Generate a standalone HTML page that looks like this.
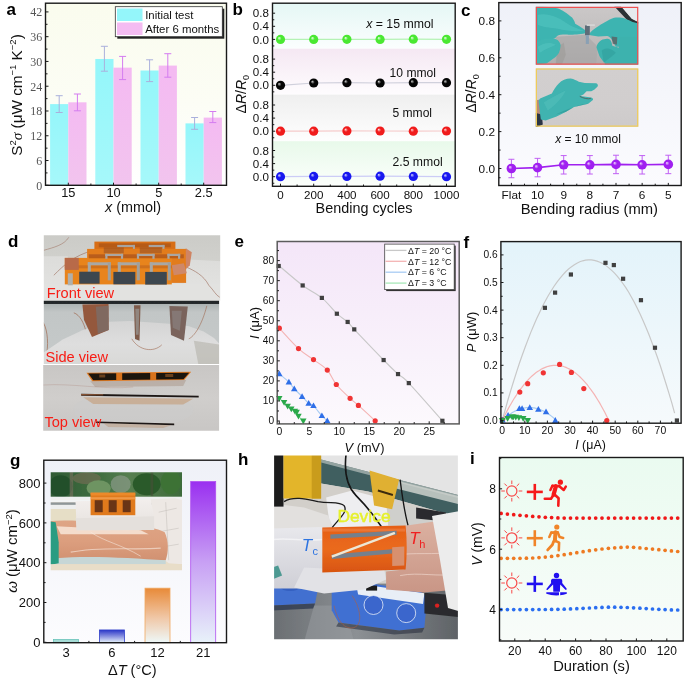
<!DOCTYPE html>
<html><head><meta charset="utf-8"><style>html,body{margin:0;padding:0;background:#fff;width:685px;height:679px;overflow:hidden;font-family:"Liberation Sans",sans-serif} svg{display:block;filter:blur(0.35px)}</style></head>
<body><svg width="685" height="679" viewBox="0 0 685 679"><defs><linearGradient id="ga_bg" x1="0" y1="0" x2="0" y2="1"><stop offset="0" stop-color="#fbfdf0"/><stop offset="1" stop-color="#fdfef6"/></linearGradient><linearGradient id="ga_bg2" x1="0" y1="0" x2="0" y2="1"><stop offset="0" stop-color="#fafcee"/><stop offset="0.55" stop-color="#fcfdf5"/><stop offset="1" stop-color="#ffffff"/></linearGradient><linearGradient id="ga_c" x1="0" y1="0" x2="0" y2="1"><stop offset="0" stop-color="#94f6fa"/><stop offset="1" stop-color="#a6f8fa"/></linearGradient><linearGradient id="ga_p" x1="0" y1="0" x2="0" y2="1"><stop offset="0" stop-color="#f4baf2"/><stop offset="1" stop-color="#f2c4ee"/></linearGradient><linearGradient id="gb0" x1="0" y1="0" x2="0" y2="1"><stop offset="0" stop-color="#e5f7f5"/><stop offset="1" stop-color="#fbfefe"/></linearGradient><linearGradient id="gb1" x1="0" y1="0" x2="0" y2="1"><stop offset="0" stop-color="#f5e8f3"/><stop offset="1" stop-color="#fefcfe"/></linearGradient><linearGradient id="gb2" x1="0" y1="0" x2="0" y2="1"><stop offset="0" stop-color="#efefef"/><stop offset="1" stop-color="#fefefe"/></linearGradient><linearGradient id="gb3" x1="0" y1="0" x2="0" y2="1"><stop offset="0" stop-color="#e8f9ea"/><stop offset="1" stop-color="#fcfffc"/></linearGradient><radialGradient id="gsg" cx="0.5" cy="0.5" r="0.5" fx="0.33" fy="0.33"><stop offset="0" stop-color="#f0fff0"/><stop offset="0.42" stop-color="#4ae832"/><stop offset="1" stop-color="#4ae832"/></radialGradient><radialGradient id="gsk" cx="0.5" cy="0.5" r="0.5" fx="0.33" fy="0.33"><stop offset="0" stop-color="#d0d0d0"/><stop offset="0.42" stop-color="#050505"/><stop offset="1" stop-color="#050505"/></radialGradient><radialGradient id="gsr" cx="0.5" cy="0.5" r="0.5" fx="0.33" fy="0.33"><stop offset="0" stop-color="#ffe0e0"/><stop offset="0.42" stop-color="#f01c1c"/><stop offset="1" stop-color="#f01c1c"/></radialGradient><radialGradient id="gsb" cx="0.5" cy="0.5" r="0.5" fx="0.33" fy="0.33"><stop offset="0" stop-color="#e0e0ff"/><stop offset="0.42" stop-color="#1818f0"/><stop offset="1" stop-color="#1818f0"/></radialGradient><radialGradient id="gsp" cx="0.5" cy="0.5" r="0.5" fx="0.33" fy="0.33"><stop offset="0" stop-color="#f4e0ff"/><stop offset="0.42" stop-color="#a020f0"/><stop offset="1" stop-color="#a020f0"/></radialGradient><linearGradient id="gc_bg" x1="0" y1="0" x2="0" y2="1"><stop offset="0" stop-color="#eff1f8"/><stop offset="1" stop-color="#fbfbfe"/></linearGradient><linearGradient id="ge_bg" x1="0" y1="0" x2="0" y2="1"><stop offset="0" stop-color="#f4e6f8"/><stop offset="1" stop-color="#fcf9fd"/></linearGradient><linearGradient id="gf_bg" x1="0" y1="0" x2="0" y2="1"><stop offset="0" stop-color="#e3f3fa"/><stop offset="1" stop-color="#f6fafc"/></linearGradient><linearGradient id="gg_bg" x1="0" y1="0" x2="0" y2="1"><stop offset="0" stop-color="#eff1f8"/><stop offset="1" stop-color="#fcfcfe"/></linearGradient><linearGradient id="gg6" x1="0" y1="0" x2="0" y2="1"><stop offset="0" stop-color="#2a36c8"/><stop offset="0.5" stop-color="#8890e0"/><stop offset="1" stop-color="#e8f4fa"/></linearGradient><linearGradient id="gg12" x1="0" y1="0" x2="0" y2="1"><stop offset="0" stop-color="#e88a38"/><stop offset="0.55" stop-color="#f0c8a8"/><stop offset="1" stop-color="#eef8f8"/></linearGradient><linearGradient id="gg21" x1="0" y1="0" x2="0" y2="1"><stop offset="0" stop-color="#9a30f0"/><stop offset="0.5" stop-color="#c8a0f4"/><stop offset="1" stop-color="#e8f2fa"/></linearGradient><linearGradient id="gi_bg" x1="0" y1="0" x2="0" y2="1"><stop offset="0" stop-color="#eafbf0"/><stop offset="1" stop-color="#f8fcf9"/></linearGradient><clipPath id="clip_c1"><rect x="0" y="0" width="102.5" height="57.9"/></clipPath><filter id="blur_c1" x="-5%" y="-5%" width="110%" height="110%"><feGaussianBlur stdDeviation="0.5"/></filter><linearGradient id="c1bg" x1="0" y1="0" x2="0" y2="1"><stop offset="0" stop-color="#cbc8c8"/><stop offset="0.45" stop-color="#c3c0c0"/><stop offset="1" stop-color="#aeabab"/></linearGradient><linearGradient id="c1sh" x1="0" y1="0" x2="1" y2="0"><stop offset="0" stop-color="#9a9794"/><stop offset="1" stop-color="#b8b4b0"/></linearGradient><clipPath id="clip_c2"><rect x="0" y="0" width="102.5" height="58.3"/></clipPath><filter id="blur_c2" x="-5%" y="-5%" width="110%" height="110%"><feGaussianBlur stdDeviation="0.55"/></filter><linearGradient id="c2bg" x1="0" y1="0" x2="0" y2="1"><stop offset="0" stop-color="#d2cfcf"/><stop offset="0.6" stop-color="#d1cece"/><stop offset="1" stop-color="#cdcaca"/></linearGradient><clipPath id="clip_g"><rect x="0" y="0" width="131.3" height="98.1"/></clipPath><filter id="blur_g" x="-5%" y="-5%" width="110%" height="110%"><feGaussianBlur stdDeviation="0.55"/></filter><linearGradient id="gtree" x1="0" y1="0" x2="1" y2="0"><stop offset="0" stop-color="#2f5a34"/><stop offset="0.35" stop-color="#3e6c3e"/><stop offset="0.6" stop-color="#567e50"/><stop offset="1" stop-color="#3c6a3a"/></linearGradient><linearGradient id="garm" x1="0" y1="0" x2="0" y2="1"><stop offset="0" stop-color="#dea586"/><stop offset="0.5" stop-color="#dc9e7e"/><stop offset="1" stop-color="#d09070"/></linearGradient><linearGradient id="gfoam" x1="0" y1="0" x2="0" y2="1"><stop offset="0" stop-color="#f2eeec"/><stop offset="1" stop-color="#e6e2de"/></linearGradient><clipPath id="clip_d1"><rect x="0" y="0" width="176.4" height="65.5"/></clipPath><filter id="blur_d1" x="-5%" y="-5%" width="110%" height="110%"><feGaussianBlur stdDeviation="0.6"/></filter><linearGradient id="d1bg" x1="0" y1="0" x2="0" y2="1"><stop offset="0" stop-color="#cbcbc7"/><stop offset="1" stop-color="#d9d9d5"/></linearGradient><linearGradient id="d1foam" x1="0" y1="0" x2="0" y2="1"><stop offset="0" stop-color="#dcdcda"/><stop offset="1" stop-color="#e6e6e4"/></linearGradient><linearGradient id="d1or" x1="0" y1="0" x2="0" y2="1"><stop offset="0" stop-color="#e97c18"/><stop offset="1" stop-color="#e8841e"/></linearGradient><clipPath id="clip_d2"><rect x="0" y="0" width="175.3" height="63.1"/></clipPath><filter id="blur_d2" x="-5%" y="-5%" width="110%" height="110%"><feGaussianBlur stdDeviation="0.6"/></filter><linearGradient id="d2bg" x1="0" y1="0" x2="0" y2="1"><stop offset="0" stop-color="#1e2224"/><stop offset="0.07" stop-color="#262a2c"/><stop offset="0.085" stop-color="#aeb4b4"/><stop offset="0.2" stop-color="#c2c6c6"/><stop offset="1" stop-color="#c6caca"/></linearGradient><linearGradient id="d2foam" x1="0" y1="0" x2="0" y2="1"><stop offset="0" stop-color="#d4d4d4"/><stop offset="0.5" stop-color="#dedede"/><stop offset="1" stop-color="#d8d8d6"/></linearGradient><clipPath id="clip_d3"><rect x="0" y="0" width="175.9" height="65.8"/></clipPath><filter id="blur_d3" x="-5%" y="-5%" width="110%" height="110%"><feGaussianBlur stdDeviation="0.55"/></filter><linearGradient id="d3bg" x1="0" y1="0" x2="0" y2="1"><stop offset="0" stop-color="#c8c6c4"/><stop offset="0.5" stop-color="#d0cecc"/><stop offset="1" stop-color="#c8c6c4"/></linearGradient><clipPath id="clip_h"><rect x="0" y="0" width="183.8" height="183.7"/></clipPath><filter id="blur_h" x="-5%" y="-5%" width="110%" height="110%"><feGaussianBlur stdDeviation="0.6"/></filter><linearGradient id="horange" x1="0" y1="0" x2="0" y2="1"><stop offset="0" stop-color="#e65e14"/><stop offset="0.5" stop-color="#ea6a1e"/><stop offset="1" stop-color="#d85410"/></linearGradient><linearGradient id="hwrap" x1="0" y1="0" x2="0" y2="1"><stop offset="0" stop-color="#e8e8ec"/><stop offset="1" stop-color="#cfcfd6"/></linearGradient><linearGradient id="hskin" x1="0" y1="0" x2="0" y2="1"><stop offset="0" stop-color="#dcb2a2"/><stop offset="1" stop-color="#c99686"/></linearGradient><linearGradient id="hfloor" x1="0" y1="0" x2="1" y2="0"><stop offset="0" stop-color="#6a6e72"/><stop offset="0.45" stop-color="#8c9094"/><stop offset="1" stop-color="#5e6266"/></linearGradient></defs><rect x="45.50" y="3.20" width="181.00" height="182.10" fill="url(#ga_bg2)" stroke="none" stroke-width="1" /><rect x="50.10" y="104.10" width="18.20" height="81.20" fill="url(#ga_c)" stroke="none" stroke-width="1" /><rect x="68.30" y="102.32" width="18.20" height="82.98" fill="url(#ga_p)" stroke="none" stroke-width="1" /><rect x="95.30" y="58.97" width="18.20" height="126.33" fill="url(#ga_c)" stroke="none" stroke-width="1" /><rect x="113.50" y="67.64" width="18.20" height="117.66" fill="url(#ga_p)" stroke="none" stroke-width="1" /><rect x="140.50" y="70.53" width="18.20" height="114.77" fill="url(#ga_c)" stroke="none" stroke-width="1" /><rect x="158.70" y="65.58" width="18.20" height="119.72" fill="url(#ga_p)" stroke="none" stroke-width="1" /><rect x="185.50" y="123.38" width="18.20" height="61.93" fill="url(#ga_c)" stroke="none" stroke-width="1" /><rect x="203.70" y="117.60" width="18.20" height="67.70" fill="url(#ga_p)" stroke="none" stroke-width="1" /><line x1="59.20" y1="95.70" x2="59.20" y2="112.50" stroke="#aab0dc" stroke-width="1" /><line x1="55.70" y1="95.70" x2="62.70" y2="95.70" stroke="#aab0dc" stroke-width="1" /><line x1="55.70" y1="112.50" x2="62.70" y2="112.50" stroke="#aab0dc" stroke-width="1" /><line x1="77.40" y1="94.00" x2="77.40" y2="110.80" stroke="#d47cf0" stroke-width="1" /><line x1="73.90" y1="94.00" x2="80.90" y2="94.00" stroke="#d47cf0" stroke-width="1" /><line x1="73.90" y1="110.80" x2="80.90" y2="110.80" stroke="#d47cf0" stroke-width="1" /><line x1="104.40" y1="46.30" x2="104.40" y2="71.20" stroke="#aab0dc" stroke-width="1" /><line x1="100.90" y1="46.30" x2="107.90" y2="46.30" stroke="#aab0dc" stroke-width="1" /><line x1="100.90" y1="71.20" x2="107.90" y2="71.20" stroke="#aab0dc" stroke-width="1" /><line x1="122.60" y1="56.40" x2="122.60" y2="79.60" stroke="#d47cf0" stroke-width="1" /><line x1="119.10" y1="56.40" x2="126.10" y2="56.40" stroke="#d47cf0" stroke-width="1" /><line x1="119.10" y1="79.60" x2="126.10" y2="79.60" stroke="#d47cf0" stroke-width="1" /><line x1="149.60" y1="59.80" x2="149.60" y2="81.60" stroke="#aab0dc" stroke-width="1" /><line x1="146.10" y1="59.80" x2="153.10" y2="59.80" stroke="#aab0dc" stroke-width="1" /><line x1="146.10" y1="81.60" x2="153.10" y2="81.60" stroke="#aab0dc" stroke-width="1" /><line x1="167.80" y1="53.70" x2="167.80" y2="77.20" stroke="#d47cf0" stroke-width="1" /><line x1="164.30" y1="53.70" x2="171.30" y2="53.70" stroke="#d47cf0" stroke-width="1" /><line x1="164.30" y1="77.20" x2="171.30" y2="77.20" stroke="#d47cf0" stroke-width="1" /><line x1="194.60" y1="117.50" x2="194.60" y2="129.30" stroke="#aab0dc" stroke-width="1" /><line x1="191.10" y1="117.50" x2="198.10" y2="117.50" stroke="#aab0dc" stroke-width="1" /><line x1="191.10" y1="129.30" x2="198.10" y2="129.30" stroke="#aab0dc" stroke-width="1" /><line x1="212.80" y1="111.50" x2="212.80" y2="122.60" stroke="#d47cf0" stroke-width="1" /><line x1="209.30" y1="111.50" x2="216.30" y2="111.50" stroke="#d47cf0" stroke-width="1" /><line x1="209.30" y1="122.60" x2="216.30" y2="122.60" stroke="#d47cf0" stroke-width="1" /><rect x="45.50" y="3.20" width="181.00" height="182.10" fill="none" stroke="#1a1a1a" stroke-width="1.4" /><rect x="117.30" y="8.70" width="107.00" height="30.00" fill="#222" stroke="none" stroke-width="1" /><rect x="115.30" y="6.70" width="107.00" height="30.00" fill="#fff" stroke="#333" stroke-width="0.8" /><rect x="117.00" y="8.50" width="25.50" height="12.50" fill="#94f6fa" stroke="none" stroke-width="1" /><rect x="117.00" y="22.50" width="25.50" height="12.50" fill="#f4bcf2" stroke="none" stroke-width="1" /><text x="145.20" y="18.90" font-size="11.4" text-anchor="start" fill="#111" font-family='"Liberation Sans", sans-serif' font-weight="normal" font-style="normal" >Initial test</text><text x="145.20" y="32.50" font-size="11.4" text-anchor="start" fill="#111" font-family='"Liberation Sans", sans-serif' font-weight="normal" font-style="normal" >After 6 months</text><line x1="45.50" y1="185.30" x2="48.50" y2="185.30" stroke="#1a1a1a" stroke-width="1" /><text x="42.30" y="189.60" font-size="12" text-anchor="end" fill="#555" font-family='"Liberation Serif", serif' font-weight="normal" font-style="normal" >0</text><line x1="45.50" y1="160.53" x2="48.50" y2="160.53" stroke="#1a1a1a" stroke-width="1" /><text x="42.30" y="164.83" font-size="12" text-anchor="end" fill="#555" font-family='"Liberation Serif", serif' font-weight="normal" font-style="normal" >6</text><line x1="45.50" y1="135.76" x2="48.50" y2="135.76" stroke="#1a1a1a" stroke-width="1" /><text x="42.30" y="140.06" font-size="12" text-anchor="end" fill="#555" font-family='"Liberation Serif", serif' font-weight="normal" font-style="normal" >12</text><line x1="45.50" y1="110.99" x2="48.50" y2="110.99" stroke="#1a1a1a" stroke-width="1" /><text x="42.30" y="115.29" font-size="12" text-anchor="end" fill="#555" font-family='"Liberation Serif", serif' font-weight="normal" font-style="normal" >18</text><line x1="45.50" y1="86.22" x2="48.50" y2="86.22" stroke="#1a1a1a" stroke-width="1" /><text x="42.30" y="90.52" font-size="12" text-anchor="end" fill="#555" font-family='"Liberation Serif", serif' font-weight="normal" font-style="normal" >24</text><line x1="45.50" y1="61.45" x2="48.50" y2="61.45" stroke="#1a1a1a" stroke-width="1" /><text x="42.30" y="65.75" font-size="12" text-anchor="end" fill="#555" font-family='"Liberation Serif", serif' font-weight="normal" font-style="normal" >30</text><line x1="45.50" y1="36.68" x2="48.50" y2="36.68" stroke="#1a1a1a" stroke-width="1" /><text x="42.30" y="40.98" font-size="12" text-anchor="end" fill="#555" font-family='"Liberation Serif", serif' font-weight="normal" font-style="normal" >36</text><line x1="45.50" y1="11.91" x2="48.50" y2="11.91" stroke="#1a1a1a" stroke-width="1" /><text x="42.30" y="16.21" font-size="12" text-anchor="end" fill="#555" font-family='"Liberation Serif", serif' font-weight="normal" font-style="normal" >42</text><line x1="45.50" y1="172.92" x2="47.50" y2="172.92" stroke="#1a1a1a" stroke-width="1" /><line x1="45.50" y1="148.15" x2="47.50" y2="148.15" stroke="#1a1a1a" stroke-width="1" /><line x1="45.50" y1="123.38" x2="47.50" y2="123.38" stroke="#1a1a1a" stroke-width="1" /><line x1="45.50" y1="98.61" x2="47.50" y2="98.61" stroke="#1a1a1a" stroke-width="1" /><line x1="45.50" y1="73.84" x2="47.50" y2="73.84" stroke="#1a1a1a" stroke-width="1" /><line x1="45.50" y1="49.07" x2="47.50" y2="49.07" stroke="#1a1a1a" stroke-width="1" /><line x1="45.50" y1="24.30" x2="47.50" y2="24.30" stroke="#1a1a1a" stroke-width="1" /><line x1="68.30" y1="185.30" x2="68.30" y2="182.70" stroke="#1a1a1a" stroke-width="1" /><line x1="113.50" y1="185.30" x2="113.50" y2="182.70" stroke="#1a1a1a" stroke-width="1" /><line x1="158.70" y1="185.30" x2="158.70" y2="182.70" stroke="#1a1a1a" stroke-width="1" /><line x1="203.70" y1="185.30" x2="203.70" y2="182.70" stroke="#1a1a1a" stroke-width="1" /><line x1="90.90" y1="185.30" x2="90.90" y2="183.50" stroke="#1a1a1a" stroke-width="1" /><line x1="136.10" y1="185.30" x2="136.10" y2="183.50" stroke="#1a1a1a" stroke-width="1" /><line x1="181.20" y1="185.30" x2="181.20" y2="183.50" stroke="#1a1a1a" stroke-width="1" /><text x="68.30" y="197.00" font-size="12.8" text-anchor="middle" fill="#111" font-family='"Liberation Sans", sans-serif' font-weight="normal" font-style="normal" >15</text><text x="113.50" y="197.00" font-size="12.8" text-anchor="middle" fill="#111" font-family='"Liberation Sans", sans-serif' font-weight="normal" font-style="normal" >10</text><text x="158.70" y="197.00" font-size="12.8" text-anchor="middle" fill="#111" font-family='"Liberation Sans", sans-serif' font-weight="normal" font-style="normal" >5</text><text x="203.70" y="197.00" font-size="12.8" text-anchor="middle" fill="#111" font-family='"Liberation Sans", sans-serif' font-weight="normal" font-style="normal" >2.5</text><text x="133.00" y="212.40" font-size="14.4" text-anchor="middle" fill="#111" font-family='"Liberation Sans", sans-serif' font-weight="normal" font-style="normal" ><tspan font-style="italic">x</tspan> (mmol)</text><text x="0" y="0" font-size="15.3" text-anchor="middle" fill="#111" font-family='"Liberation Sans", sans-serif' transform="translate(21.5,95) rotate(-90)">S<tspan font-size="9.5" dy="-6">2</tspan><tspan dy="6" font-family='"Liberation Serif", serif' font-style="italic">σ</tspan> (μW cm<tspan font-size="9.5" dy="-6">−1</tspan><tspan dy="6"> K</tspan><tspan font-size="9.5" dy="-6">−2</tspan><tspan dy="6">)</tspan></text><text x="6.50" y="14.50" font-size="17" text-anchor="start" fill="#000" font-family='"Liberation Sans", sans-serif' font-weight="bold" font-style="normal" >a</text><rect x="272.50" y="3.20" width="182.70" height="45.50" fill="url(#gb0)" stroke="none" stroke-width="1" /><rect x="272.50" y="48.70" width="182.70" height="45.90" fill="url(#gb1)" stroke="none" stroke-width="1" /><rect x="272.50" y="94.60" width="182.70" height="46.60" fill="url(#gb2)" stroke="none" stroke-width="1" /><rect x="272.50" y="141.20" width="182.70" height="45.10" fill="url(#gb3)" stroke="none" stroke-width="1" /><path d="M280.5,39.4 L313.7,39.4 L346.9,39.3 L380.1,39.4 L413.3,39.2 L446.5,39.3" fill="none" stroke="#b4f2b4" stroke-width="1.2"/><circle cx="280.5" cy="39.4" r="4.6" fill="url(#gsg)"/><circle cx="313.7" cy="39.4" r="4.6" fill="url(#gsg)"/><circle cx="346.9" cy="39.3" r="4.6" fill="url(#gsg)"/><circle cx="380.1" cy="39.4" r="4.6" fill="url(#gsg)"/><circle cx="413.3" cy="39.2" r="4.6" fill="url(#gsg)"/><circle cx="446.5" cy="39.3" r="4.6" fill="url(#gsg)"/><path d="M280.5,85.3 L313.7,83.0 L346.9,82.7 L380.1,83.0 L413.3,82.7 L446.5,82.7" fill="none" stroke="#d0d0dc" stroke-width="1.2"/><circle cx="280.5" cy="85.3" r="4.6" fill="url(#gsk)"/><circle cx="313.7" cy="83.0" r="4.6" fill="url(#gsk)"/><circle cx="346.9" cy="82.7" r="4.6" fill="url(#gsk)"/><circle cx="380.1" cy="83.0" r="4.6" fill="url(#gsk)"/><circle cx="413.3" cy="82.7" r="4.6" fill="url(#gsk)"/><circle cx="446.5" cy="82.7" r="4.6" fill="url(#gsk)"/><path d="M280.5,131.2 L313.7,131.2 L346.9,130.9 L380.1,131.0 L413.3,131.2 L446.5,131.0" fill="none" stroke="#f6cccc" stroke-width="1.2"/><circle cx="280.5" cy="131.2" r="4.6" fill="url(#gsr)"/><circle cx="313.7" cy="131.2" r="4.6" fill="url(#gsr)"/><circle cx="346.9" cy="130.9" r="4.6" fill="url(#gsr)"/><circle cx="380.1" cy="131.0" r="4.6" fill="url(#gsr)"/><circle cx="413.3" cy="131.2" r="4.6" fill="url(#gsr)"/><circle cx="446.5" cy="131.0" r="4.6" fill="url(#gsr)"/><path d="M280.5,176.7 L313.7,176.4 L346.9,176.4 L380.1,176.2 L413.3,176.4 L446.5,176.7" fill="none" stroke="#ccccf6" stroke-width="1.2"/><circle cx="280.5" cy="176.7" r="4.6" fill="url(#gsb)"/><circle cx="313.7" cy="176.4" r="4.6" fill="url(#gsb)"/><circle cx="346.9" cy="176.4" r="4.6" fill="url(#gsb)"/><circle cx="380.1" cy="176.2" r="4.6" fill="url(#gsb)"/><circle cx="413.3" cy="176.4" r="4.6" fill="url(#gsb)"/><circle cx="446.5" cy="176.7" r="4.6" fill="url(#gsb)"/><rect x="272.50" y="3.20" width="182.70" height="183.10" fill="none" stroke="#1a1a1a" stroke-width="1.4" /><line x1="272.50" y1="39.40" x2="275.10" y2="39.40" stroke="#1a1a1a" stroke-width="1" /><text x="268.90" y="43.50" font-size="11.6" text-anchor="end" fill="#111" font-family='"Liberation Sans", sans-serif' font-weight="normal" font-style="normal" >0.0</text><line x1="272.50" y1="26.30" x2="275.10" y2="26.30" stroke="#1a1a1a" stroke-width="1" /><text x="268.90" y="30.40" font-size="11.6" text-anchor="end" fill="#111" font-family='"Liberation Sans", sans-serif' font-weight="normal" font-style="normal" >0.4</text><line x1="272.50" y1="13.20" x2="275.10" y2="13.20" stroke="#1a1a1a" stroke-width="1" /><text x="268.90" y="17.30" font-size="11.6" text-anchor="end" fill="#111" font-family='"Liberation Sans", sans-serif' font-weight="normal" font-style="normal" >0.8</text><line x1="272.50" y1="32.85" x2="274.30" y2="32.85" stroke="#1a1a1a" stroke-width="1" /><line x1="272.50" y1="19.75" x2="274.30" y2="19.75" stroke="#1a1a1a" stroke-width="1" /><line x1="272.50" y1="45.95" x2="274.30" y2="45.95" stroke="#1a1a1a" stroke-width="1" /><line x1="272.50" y1="85.30" x2="275.10" y2="85.30" stroke="#1a1a1a" stroke-width="1" /><text x="268.90" y="89.40" font-size="11.6" text-anchor="end" fill="#111" font-family='"Liberation Sans", sans-serif' font-weight="normal" font-style="normal" >0.0</text><line x1="272.50" y1="72.20" x2="275.10" y2="72.20" stroke="#1a1a1a" stroke-width="1" /><text x="268.90" y="76.30" font-size="11.6" text-anchor="end" fill="#111" font-family='"Liberation Sans", sans-serif' font-weight="normal" font-style="normal" >0.4</text><line x1="272.50" y1="59.10" x2="275.10" y2="59.10" stroke="#1a1a1a" stroke-width="1" /><text x="268.90" y="63.20" font-size="11.6" text-anchor="end" fill="#111" font-family='"Liberation Sans", sans-serif' font-weight="normal" font-style="normal" >0.8</text><line x1="272.50" y1="78.75" x2="274.30" y2="78.75" stroke="#1a1a1a" stroke-width="1" /><line x1="272.50" y1="65.65" x2="274.30" y2="65.65" stroke="#1a1a1a" stroke-width="1" /><line x1="272.50" y1="91.85" x2="274.30" y2="91.85" stroke="#1a1a1a" stroke-width="1" /><line x1="272.50" y1="131.20" x2="275.10" y2="131.20" stroke="#1a1a1a" stroke-width="1" /><text x="268.90" y="135.30" font-size="11.6" text-anchor="end" fill="#111" font-family='"Liberation Sans", sans-serif' font-weight="normal" font-style="normal" >0.0</text><line x1="272.50" y1="118.10" x2="275.10" y2="118.10" stroke="#1a1a1a" stroke-width="1" /><text x="268.90" y="122.20" font-size="11.6" text-anchor="end" fill="#111" font-family='"Liberation Sans", sans-serif' font-weight="normal" font-style="normal" >0.4</text><line x1="272.50" y1="105.00" x2="275.10" y2="105.00" stroke="#1a1a1a" stroke-width="1" /><text x="268.90" y="109.10" font-size="11.6" text-anchor="end" fill="#111" font-family='"Liberation Sans", sans-serif' font-weight="normal" font-style="normal" >0.8</text><line x1="272.50" y1="124.65" x2="274.30" y2="124.65" stroke="#1a1a1a" stroke-width="1" /><line x1="272.50" y1="111.55" x2="274.30" y2="111.55" stroke="#1a1a1a" stroke-width="1" /><line x1="272.50" y1="137.75" x2="274.30" y2="137.75" stroke="#1a1a1a" stroke-width="1" /><line x1="272.50" y1="176.70" x2="275.10" y2="176.70" stroke="#1a1a1a" stroke-width="1" /><text x="268.90" y="180.80" font-size="11.6" text-anchor="end" fill="#111" font-family='"Liberation Sans", sans-serif' font-weight="normal" font-style="normal" >0.0</text><line x1="272.50" y1="163.60" x2="275.10" y2="163.60" stroke="#1a1a1a" stroke-width="1" /><text x="268.90" y="167.70" font-size="11.6" text-anchor="end" fill="#111" font-family='"Liberation Sans", sans-serif' font-weight="normal" font-style="normal" >0.4</text><line x1="272.50" y1="150.50" x2="275.10" y2="150.50" stroke="#1a1a1a" stroke-width="1" /><text x="268.90" y="154.60" font-size="11.6" text-anchor="end" fill="#111" font-family='"Liberation Sans", sans-serif' font-weight="normal" font-style="normal" >0.8</text><line x1="272.50" y1="170.15" x2="274.30" y2="170.15" stroke="#1a1a1a" stroke-width="1" /><line x1="272.50" y1="157.05" x2="274.30" y2="157.05" stroke="#1a1a1a" stroke-width="1" /><line x1="272.50" y1="183.25" x2="274.30" y2="183.25" stroke="#1a1a1a" stroke-width="1" /><line x1="280.50" y1="186.30" x2="280.50" y2="183.70" stroke="#1a1a1a" stroke-width="1" /><text x="280.50" y="199.40" font-size="11.6" text-anchor="middle" fill="#111" font-family='"Liberation Sans", sans-serif' font-weight="normal" font-style="normal" >0</text><line x1="313.70" y1="186.30" x2="313.70" y2="183.70" stroke="#1a1a1a" stroke-width="1" /><text x="313.70" y="199.40" font-size="11.6" text-anchor="middle" fill="#111" font-family='"Liberation Sans", sans-serif' font-weight="normal" font-style="normal" >200</text><line x1="346.90" y1="186.30" x2="346.90" y2="183.70" stroke="#1a1a1a" stroke-width="1" /><text x="346.90" y="199.40" font-size="11.6" text-anchor="middle" fill="#111" font-family='"Liberation Sans", sans-serif' font-weight="normal" font-style="normal" >400</text><line x1="380.10" y1="186.30" x2="380.10" y2="183.70" stroke="#1a1a1a" stroke-width="1" /><text x="380.10" y="199.40" font-size="11.6" text-anchor="middle" fill="#111" font-family='"Liberation Sans", sans-serif' font-weight="normal" font-style="normal" >600</text><line x1="413.30" y1="186.30" x2="413.30" y2="183.70" stroke="#1a1a1a" stroke-width="1" /><text x="413.30" y="199.40" font-size="11.6" text-anchor="middle" fill="#111" font-family='"Liberation Sans", sans-serif' font-weight="normal" font-style="normal" >800</text><line x1="446.50" y1="186.30" x2="446.50" y2="183.70" stroke="#1a1a1a" stroke-width="1" /><text x="446.50" y="199.40" font-size="11.6" text-anchor="middle" fill="#111" font-family='"Liberation Sans", sans-serif' font-weight="normal" font-style="normal" >1000</text><line x1="297.10" y1="186.30" x2="297.10" y2="184.50" stroke="#1a1a1a" stroke-width="1" /><line x1="330.30" y1="186.30" x2="330.30" y2="184.50" stroke="#1a1a1a" stroke-width="1" /><line x1="363.50" y1="186.30" x2="363.50" y2="184.50" stroke="#1a1a1a" stroke-width="1" /><line x1="396.70" y1="186.30" x2="396.70" y2="184.50" stroke="#1a1a1a" stroke-width="1" /><line x1="429.90" y1="186.30" x2="429.90" y2="184.50" stroke="#1a1a1a" stroke-width="1" /><text x="364.00" y="212.90" font-size="14.4" text-anchor="middle" fill="#111" font-family='"Liberation Sans", sans-serif' font-weight="normal" font-style="normal" >Bending cycles</text><text x="0" y="0" font-size="14" text-anchor="middle" fill="#111" font-family='"Liberation Sans", sans-serif' transform="translate(246.00,94.20) rotate(-90)"><tspan>Δ</tspan><tspan font-style="italic">R</tspan>/<tspan font-style="italic">R</tspan><tspan font-size="9" dy="3">0</tspan></text><text x="366.20" y="28.30" font-size="12.3" text-anchor="start" fill="#111" font-family='"Liberation Sans", sans-serif' font-weight="normal" font-style="normal" ><tspan font-style="italic">x</tspan> = 15 mmol</text><text x="389.60" y="77.20" font-size="12.1" text-anchor="start" fill="#111" font-family='"Liberation Sans", sans-serif' font-weight="normal" font-style="normal" >10 mmol</text><text x="392.40" y="116.80" font-size="12.1" text-anchor="start" fill="#111" font-family='"Liberation Sans", sans-serif' font-weight="normal" font-style="normal" >5 mmol</text><text x="392.50" y="166.40" font-size="12.2" text-anchor="start" fill="#111" font-family='"Liberation Sans", sans-serif' font-weight="normal" font-style="normal" >2.5 mmol</text><text x="232.50" y="14.50" font-size="17" text-anchor="start" fill="#000" font-family='"Liberation Sans", sans-serif' font-weight="bold" font-style="normal" >b</text><rect x="498.80" y="2.60" width="182.40" height="182.90" fill="url(#gc_bg)" stroke="none" stroke-width="1" /><path d="M511.4,168.5 L537.5,167.6 L563.7,164.8 L589.8,164.8 L616.0,164.4 L642.1,164.8 L668.3,164.4" fill="none" stroke="#a020f0" stroke-width="1.6"/><line x1="511.40" y1="159.28" x2="511.40" y2="177.72" stroke="#c060f4" stroke-width="1" /><line x1="508.40" y1="159.28" x2="514.40" y2="159.28" stroke="#c060f4" stroke-width="1" /><line x1="508.40" y1="177.72" x2="514.40" y2="177.72" stroke="#c060f4" stroke-width="1" /><circle cx="511.4" cy="168.5" r="4.8" fill="url(#gsp)"/><line x1="537.55" y1="158.35" x2="537.55" y2="176.80" stroke="#c060f4" stroke-width="1" /><line x1="534.55" y1="158.35" x2="540.55" y2="158.35" stroke="#c060f4" stroke-width="1" /><line x1="534.55" y1="176.80" x2="540.55" y2="176.80" stroke="#c060f4" stroke-width="1" /><circle cx="537.5" cy="167.6" r="4.8" fill="url(#gsp)"/><line x1="563.70" y1="155.59" x2="563.70" y2="174.03" stroke="#c060f4" stroke-width="1" /><line x1="560.70" y1="155.59" x2="566.70" y2="155.59" stroke="#c060f4" stroke-width="1" /><line x1="560.70" y1="174.03" x2="566.70" y2="174.03" stroke="#c060f4" stroke-width="1" /><circle cx="563.7" cy="164.8" r="4.8" fill="url(#gsp)"/><line x1="589.85" y1="155.59" x2="589.85" y2="174.03" stroke="#c060f4" stroke-width="1" /><line x1="586.85" y1="155.59" x2="592.85" y2="155.59" stroke="#c060f4" stroke-width="1" /><line x1="586.85" y1="174.03" x2="592.85" y2="174.03" stroke="#c060f4" stroke-width="1" /><circle cx="589.8" cy="164.8" r="4.8" fill="url(#gsp)"/><line x1="616.00" y1="155.22" x2="616.00" y2="173.67" stroke="#c060f4" stroke-width="1" /><line x1="613.00" y1="155.22" x2="619.00" y2="155.22" stroke="#c060f4" stroke-width="1" /><line x1="613.00" y1="173.67" x2="619.00" y2="173.67" stroke="#c060f4" stroke-width="1" /><circle cx="616.0" cy="164.4" r="4.8" fill="url(#gsp)"/><line x1="642.15" y1="155.59" x2="642.15" y2="174.03" stroke="#c060f4" stroke-width="1" /><line x1="639.15" y1="155.59" x2="645.15" y2="155.59" stroke="#c060f4" stroke-width="1" /><line x1="639.15" y1="174.03" x2="645.15" y2="174.03" stroke="#c060f4" stroke-width="1" /><circle cx="642.1" cy="164.8" r="4.8" fill="url(#gsp)"/><line x1="668.30" y1="155.22" x2="668.30" y2="173.67" stroke="#c060f4" stroke-width="1" /><line x1="665.30" y1="155.22" x2="671.30" y2="155.22" stroke="#c060f4" stroke-width="1" /><line x1="665.30" y1="173.67" x2="671.30" y2="173.67" stroke="#c060f4" stroke-width="1" /><circle cx="668.3" cy="164.4" r="4.8" fill="url(#gsp)"/><rect x="498.80" y="2.60" width="182.40" height="182.90" fill="none" stroke="#1a1a1a" stroke-width="1.4" /><line x1="498.80" y1="168.50" x2="501.40" y2="168.50" stroke="#1a1a1a" stroke-width="1" /><text x="495.00" y="172.60" font-size="11.8" text-anchor="end" fill="#111" font-family='"Liberation Sans", sans-serif' font-weight="normal" font-style="normal" >0.0</text><line x1="498.80" y1="131.60" x2="501.40" y2="131.60" stroke="#1a1a1a" stroke-width="1" /><text x="495.00" y="135.70" font-size="11.8" text-anchor="end" fill="#111" font-family='"Liberation Sans", sans-serif' font-weight="normal" font-style="normal" >0.2</text><line x1="498.80" y1="94.70" x2="501.40" y2="94.70" stroke="#1a1a1a" stroke-width="1" /><text x="495.00" y="98.80" font-size="11.8" text-anchor="end" fill="#111" font-family='"Liberation Sans", sans-serif' font-weight="normal" font-style="normal" >0.4</text><line x1="498.80" y1="57.80" x2="501.40" y2="57.80" stroke="#1a1a1a" stroke-width="1" /><text x="495.00" y="61.90" font-size="11.8" text-anchor="end" fill="#111" font-family='"Liberation Sans", sans-serif' font-weight="normal" font-style="normal" >0.6</text><line x1="498.80" y1="20.90" x2="501.40" y2="20.90" stroke="#1a1a1a" stroke-width="1" /><text x="495.00" y="25.00" font-size="11.8" text-anchor="end" fill="#111" font-family='"Liberation Sans", sans-serif' font-weight="normal" font-style="normal" >0.8</text><line x1="498.80" y1="177.72" x2="500.60" y2="177.72" stroke="#1a1a1a" stroke-width="1" /><line x1="498.80" y1="150.05" x2="500.60" y2="150.05" stroke="#1a1a1a" stroke-width="1" /><line x1="498.80" y1="113.15" x2="500.60" y2="113.15" stroke="#1a1a1a" stroke-width="1" /><line x1="498.80" y1="76.25" x2="500.60" y2="76.25" stroke="#1a1a1a" stroke-width="1" /><line x1="498.80" y1="39.35" x2="500.60" y2="39.35" stroke="#1a1a1a" stroke-width="1" /><line x1="511.40" y1="185.50" x2="511.40" y2="182.90" stroke="#1a1a1a" stroke-width="1" /><text x="511.40" y="198.60" font-size="11.8" text-anchor="middle" fill="#111" font-family='"Liberation Sans", sans-serif' font-weight="normal" font-style="normal" >Flat</text><line x1="537.55" y1="185.50" x2="537.55" y2="182.90" stroke="#1a1a1a" stroke-width="1" /><text x="537.55" y="198.60" font-size="11.8" text-anchor="middle" fill="#111" font-family='"Liberation Sans", sans-serif' font-weight="normal" font-style="normal" >10</text><line x1="563.70" y1="185.50" x2="563.70" y2="182.90" stroke="#1a1a1a" stroke-width="1" /><text x="563.70" y="198.60" font-size="11.8" text-anchor="middle" fill="#111" font-family='"Liberation Sans", sans-serif' font-weight="normal" font-style="normal" >9</text><line x1="589.85" y1="185.50" x2="589.85" y2="182.90" stroke="#1a1a1a" stroke-width="1" /><text x="589.85" y="198.60" font-size="11.8" text-anchor="middle" fill="#111" font-family='"Liberation Sans", sans-serif' font-weight="normal" font-style="normal" >8</text><line x1="616.00" y1="185.50" x2="616.00" y2="182.90" stroke="#1a1a1a" stroke-width="1" /><text x="616.00" y="198.60" font-size="11.8" text-anchor="middle" fill="#111" font-family='"Liberation Sans", sans-serif' font-weight="normal" font-style="normal" >7</text><line x1="642.15" y1="185.50" x2="642.15" y2="182.90" stroke="#1a1a1a" stroke-width="1" /><text x="642.15" y="198.60" font-size="11.8" text-anchor="middle" fill="#111" font-family='"Liberation Sans", sans-serif' font-weight="normal" font-style="normal" >6</text><line x1="668.30" y1="185.50" x2="668.30" y2="182.90" stroke="#1a1a1a" stroke-width="1" /><text x="668.30" y="198.60" font-size="11.8" text-anchor="middle" fill="#111" font-family='"Liberation Sans", sans-serif' font-weight="normal" font-style="normal" >5</text><line x1="524.47" y1="185.50" x2="524.47" y2="183.70" stroke="#1a1a1a" stroke-width="1" /><line x1="550.62" y1="185.50" x2="550.62" y2="183.70" stroke="#1a1a1a" stroke-width="1" /><line x1="576.77" y1="185.50" x2="576.77" y2="183.70" stroke="#1a1a1a" stroke-width="1" /><line x1="602.92" y1="185.50" x2="602.92" y2="183.70" stroke="#1a1a1a" stroke-width="1" /><line x1="629.07" y1="185.50" x2="629.07" y2="183.70" stroke="#1a1a1a" stroke-width="1" /><line x1="655.22" y1="185.50" x2="655.22" y2="183.70" stroke="#1a1a1a" stroke-width="1" /><text x="589.30" y="213.60" font-size="14.8" text-anchor="middle" fill="#111" font-family='"Liberation Sans", sans-serif' font-weight="normal" font-style="normal" >Bending radius (mm)</text><text x="0" y="0" font-size="14" text-anchor="middle" fill="#111" font-family='"Liberation Sans", sans-serif' transform="translate(475.50,93.60) rotate(-90)"><tspan>Δ</tspan><tspan font-style="italic">R</tspan>/<tspan font-style="italic">R</tspan><tspan font-size="9" dy="3">0</tspan></text><text x="588.00" y="143.40" font-size="12" text-anchor="middle" fill="#111" font-family='"Liberation Sans", sans-serif' font-weight="normal" font-style="normal" ><tspan font-style="italic">x</tspan> = 10 mmol</text><text x="461.00" y="15.80" font-size="17" text-anchor="start" fill="#000" font-family='"Liberation Sans", sans-serif' font-weight="bold" font-style="normal" >c</text><g transform="translate(535.8,6.8)"><g clip-path="url(#clip_c1)"><g filter="url(#blur_c1)"><rect x="-2.0" y="-2.0" width="106.5" height="61.9" fill="url(#c1bg)" /><polygon points="20.0,30.0 50.0,28.0 62.0,40.0 60.0,60.0 20.0,60.0" fill="#aaa8a8" opacity="0.7"/><polygon points="22.0,40.0 28.0,36.0 30.0,48.0 26.0,58.0 20.0,58.0" fill="#9a9894" opacity="0.5"/><polygon points="77.0,-2.0 84.0,-2.0 96.0,12.0 104.0,16.0 104.0,20.0 92.0,14.0" fill="#2c3034" /><polygon points="84.0,-2.0 104.0,-2.0 104.0,16.0 96.0,12.0" fill="#e6eaee" /><path d="M-2,-2 L21.3,1.4 C26,2.5 32,7 36.3,10.7 C38,13 39,15 39.4,16.9 C42,18 46,21 49.2,23.1 C50.5,24 50.2,26 48.7,26.6 C44,27.5 36,28 32.8,27.9 C28,27.6 23,28 21.3,29.3 L19.5,31.1 L-2,40 Z" fill="#3db4b1" stroke="none" stroke-width="1" /><path d="M2,8 C12,6 22,10 30,16 C36,20 42,22 48,24 C40,25 30,24 22,22 C14,21 6,20 2,18 Z" fill="#5ccac6" stroke="none" stroke-width="1" opacity="0.45"/><path d="M-2,36 L8.1,31.9 L16.9,31.5 C20,32 22,33 23.1,34.6 C24.5,36.5 25,38 24.8,39 C24.5,42 24,44 23.1,46.1 C21,49 19,51 16.9,52.3 C14,54.5 12,56 10.7,56.7 L1,57.6 L-2,60 Z" fill="#3fb6b2" stroke="none" stroke-width="1" /><path d="M2,40 C8,36 14,35 20,38 C16,40 10,42 4,46 Z" fill="#62cbc6" stroke="none" stroke-width="1" opacity="0.4"/><path d="M54.5,25.7 C57,23 60,21 62.5,19.5 C66,17 69,15.5 71.3,14.2 C75,12 78,11 80.1,10.7 C84,10.5 87,11 89,11.6 C92,13 95,14 96.9,15.1 L104,17 L104,40 L80,40 C76,32 74,30 71.3,29.3 L62.5,29.7 L54.5,28.4 C53.5,27.5 53.6,26.5 54.5,25.7 Z" fill="#3db4b1" stroke="none" stroke-width="1" /><polygon points="75.7,29.8 81.5,30.5 81.0,38.0 77.0,37.0" fill="#5a5e62" opacity="0.8"/><path d="M60.7,40.8 C61,38.5 61.8,37 62.5,36.3 C64,34.5 65.5,33.5 66.9,32.8 C69,32 71,31.9 72.2,31.9 C75,32.5 76,35 76.5,39 L83,41 L84,30 L104,30 L104,60 L69.5,60 L68.7,55.8 C66,53 64.5,51 63.4,48.7 Z" fill="#3cb2ae" stroke="none" stroke-width="1" /><path d="M66,44 C70,40 76,42 80,46 C76,50 70,54 68,56 Z" fill="#2f9a97" stroke="none" stroke-width="1" opacity="0.5"/><rect x="49.2" y="18.6" width="4.8" height="9.8" fill="#5e6c78" /><rect x="50.0" y="28.2" width="3.1" height="9.0" fill="#8aa0b4" /><rect x="51.0" y="17.5" width="8.0" height="1.6" fill="#d8d8d8" /></g></g><rect x="0.6" y="0.6" width="101.3" height="56.699999999999996" fill="none" stroke="#ee5050" stroke-width="1.2"/></g><g transform="translate(535.8,68.4)"><g clip-path="url(#clip_c2)"><g filter="url(#blur_c2)"><rect x="-2.0" y="-2.0" width="106.5" height="62.3" fill="url(#c2bg)" /><polygon points="-2.0,32.0 5.0,31.0 6.0,52.0 -2.0,56.0" fill="#b88a78" /><polygon points="-2.0,44.0 6.0,46.0 7.0,56.0 -2.0,60.0" fill="#2c3444" /><path d="M2.7,32.3 L4.3,30 L16.1,25.2 C18,21 20,18 23,15 C26,12 31,10 35,10.2 C38,10.5 41,12.5 43,13.4 L49,14.5 L60.3,14.9 C62,15.5 62.5,17 61.8,18.1 L58.7,21.2 L55.5,22.8 L50.8,22.8 L47.6,26 L44.5,27.6 L55.5,29.1 C57.5,30 57.5,31 57.1,31.5 L52.4,35.4 L38.2,38.6 L30.3,43.3 L20.8,48.1 L9.8,52 L5,51 Z" fill="#3fb3b0" stroke="none" stroke-width="1" /><path d="M8,34 C14,30 22,26 30,22 C26,30 20,36 12,42 Z" fill="#62c9c4" stroke="none" stroke-width="1" opacity="0.35"/><path d="M20,46 C28,42 36,39 46,36 L52.4,35.4 L38.2,38.6 L30.3,43.3 Z" fill="#2c8f8e" stroke="none" stroke-width="1" opacity="0.5"/><path d="M44,28 C48,30 52,31 55,30" fill="none" stroke="#555" stroke-width="0.8" /></g></g><rect x="0.6" y="0.6" width="101.3" height="57.099999999999994" fill="none" stroke="#f0cc58" stroke-width="1.2"/></g><rect x="277.20" y="241.50" width="182.00" height="182.40" fill="url(#ge_bg)" stroke="none" stroke-width="1" /><path d="M279.3,266.0 C283.2,269.3 295.6,280.1 302.7,285.5 C309.8,290.8 316.2,293.2 321.9,297.9 C327.6,302.6 332.6,309.7 336.9,313.7 C341.2,317.7 344.8,319.3 347.7,322.0 C350.6,324.6 348.3,323.0 354.2,329.4 C360.2,335.7 376.3,352.6 383.6,360.0 C390.9,367.5 393.8,370.2 398.0,374.1 C402.2,377.9 401.4,375.3 408.8,383.1 C416.2,390.9 436.8,414.5 442.4,420.8" fill="none" stroke="#c8c8c8" stroke-width="1.1"/><path d="M279.3,328.2 C282.5,331.6 292.8,343.4 298.5,348.6 C304.2,353.9 308.7,356.1 313.5,359.6 C318.3,363.2 323.5,365.9 327.3,370.1 C331.1,374.2 332.5,379.8 336.3,384.5 C340.1,389.2 346.4,394.9 350.1,398.3 C353.8,401.8 354.2,401.6 358.4,405.4 C362.6,409.1 372.4,418.2 375.2,420.8" fill="none" stroke="#f4b4b4" stroke-width="1.1"/><path d="M279.3,373.9 C280.9,375.3 286.4,379.6 288.9,382.1 C291.4,384.6 292.1,386.5 294.3,388.9 C296.5,391.3 299.7,394.1 302.1,396.5 C304.5,398.9 306.8,401.8 308.7,403.4 C310.6,404.9 311.3,403.7 313.5,405.8 C315.7,407.8 319.6,413.3 321.9,415.8 C324.2,418.3 326.4,420.0 327.3,420.8" fill="none" stroke="#a8ccf4" stroke-width="1.1"/><path d="M279.3,398.3 C280.1,399.0 282.7,401.1 284.1,402.4 C285.5,403.7 286.5,405.1 287.7,406.2 C288.9,407.3 290.1,408.1 291.3,409.0 C292.5,409.8 294.0,410.6 294.9,411.2 C295.8,411.7 296.1,411.3 296.7,412.2 C297.3,413.0 297.4,414.7 298.5,416.2 C299.6,417.7 302.5,420.2 303.3,421.0" fill="none" stroke="#a8e8b8" stroke-width="1.1"/><rect x="276.60" y="263.91" width="4.20" height="4.20" fill="#404040" stroke="none" stroke-width="1" /><rect x="300.58" y="283.36" width="4.20" height="4.20" fill="#404040" stroke="none" stroke-width="1" /><rect x="319.77" y="295.79" width="4.20" height="4.20" fill="#404040" stroke="none" stroke-width="1" /><rect x="334.76" y="311.63" width="4.20" height="4.20" fill="#404040" stroke="none" stroke-width="1" /><rect x="345.55" y="319.85" width="4.20" height="4.20" fill="#404040" stroke="none" stroke-width="1" /><rect x="352.15" y="327.27" width="4.20" height="4.20" fill="#404040" stroke="none" stroke-width="1" /><rect x="381.53" y="357.95" width="4.20" height="4.20" fill="#404040" stroke="none" stroke-width="1" /><rect x="395.92" y="371.98" width="4.20" height="4.20" fill="#404040" stroke="none" stroke-width="1" /><rect x="406.71" y="381.01" width="4.20" height="4.20" fill="#404040" stroke="none" stroke-width="1" /><rect x="440.29" y="418.70" width="4.20" height="4.20" fill="#404040" stroke="none" stroke-width="1" /><circle cx="279.3" cy="328.2" r="2.6" fill="#f03434"/><circle cx="298.5" cy="348.6" r="2.6" fill="#f03434"/><circle cx="313.5" cy="359.6" r="2.6" fill="#f03434"/><circle cx="327.3" cy="370.1" r="2.6" fill="#f03434"/><circle cx="336.3" cy="384.5" r="2.6" fill="#f03434"/><circle cx="350.1" cy="398.3" r="2.6" fill="#f03434"/><circle cx="358.4" cy="405.4" r="2.6" fill="#f03434"/><circle cx="375.2" cy="420.8" r="2.6" fill="#f03434"/><path d="M279.3,370.5 L282.5,376.2 L276.1,376.2Z" fill="#2f6fe8"/><path d="M288.9,378.7 L292.1,384.5 L285.6,384.5Z" fill="#2f6fe8"/><path d="M294.3,385.6 L297.5,391.3 L291.0,391.3Z" fill="#2f6fe8"/><path d="M302.1,393.2 L305.3,398.9 L298.8,398.9Z" fill="#2f6fe8"/><path d="M308.7,400.0 L311.9,405.7 L305.4,405.7Z" fill="#2f6fe8"/><path d="M313.5,402.4 L316.7,408.1 L310.2,408.1Z" fill="#2f6fe8"/><path d="M321.9,412.4 L325.1,418.1 L318.6,418.1Z" fill="#2f6fe8"/><path d="M327.3,417.4 L330.5,423.2 L324.0,423.2Z" fill="#2f6fe8"/><path d="M279.3,401.7 L282.5,396.0 L276.1,396.0Z" fill="#2aa84a"/><path d="M284.1,405.7 L287.3,400.0 L280.8,400.0Z" fill="#2aa84a"/><path d="M287.7,409.5 L290.9,403.8 L284.4,403.8Z" fill="#2aa84a"/><path d="M291.3,412.3 L294.5,406.6 L288.0,406.6Z" fill="#2aa84a"/><path d="M294.9,414.5 L298.1,408.8 L291.6,408.8Z" fill="#2aa84a"/><path d="M296.7,415.5 L299.9,409.8 L293.4,409.8Z" fill="#2aa84a"/><path d="M298.5,419.5 L301.7,413.8 L295.2,413.8Z" fill="#2aa84a"/><path d="M303.3,424.4 L306.5,418.6 L300.0,418.6Z" fill="#2aa84a"/><rect x="277.20" y="241.50" width="182.00" height="182.40" fill="none" stroke="#5c5c5c" stroke-width="1.5" /><rect x="386.20" y="245.60" width="69.50" height="45.50" fill="#333" stroke="none" stroke-width="1" /><rect x="384.70" y="244.10" width="69.50" height="45.50" fill="#fff" stroke="#444" stroke-width="0.8" /><line x1="385.50" y1="250.40" x2="406.50" y2="250.40" stroke="#c8c8c8" stroke-width="1.3" /><text x="408.00" y="253.60" font-size="8.8" text-anchor="start" fill="#111" font-family='"Liberation Sans", sans-serif' font-weight="normal" font-style="normal" >Δ<tspan font-style="italic">T</tspan> = 20 °C</text><line x1="385.50" y1="261.30" x2="406.50" y2="261.30" stroke="#f4b4b4" stroke-width="1.3" /><text x="408.00" y="264.50" font-size="8.8" text-anchor="start" fill="#111" font-family='"Liberation Sans", sans-serif' font-weight="normal" font-style="normal" >Δ<tspan font-style="italic">T</tspan> = 12 °C</text><line x1="385.50" y1="272.20" x2="406.50" y2="272.20" stroke="#a8ccf4" stroke-width="1.3" /><text x="408.00" y="275.40" font-size="8.8" text-anchor="start" fill="#111" font-family='"Liberation Sans", sans-serif' font-weight="normal" font-style="normal" >Δ<tspan font-style="italic">T</tspan> = 6 °C</text><line x1="385.50" y1="283.10" x2="406.50" y2="283.10" stroke="#a8e8b8" stroke-width="1.3" /><text x="408.00" y="286.30" font-size="8.8" text-anchor="start" fill="#111" font-family='"Liberation Sans", sans-serif' font-weight="normal" font-style="normal" >Δ<tspan font-style="italic">T</tspan> = 3 °C</text><line x1="277.20" y1="421.00" x2="279.80" y2="421.00" stroke="#1a1a1a" stroke-width="1" /><text x="274.20" y="423.90" font-size="10.2" text-anchor="end" fill="#111" font-family='"Liberation Sans", sans-serif' font-weight="normal" font-style="normal" >0</text><line x1="277.20" y1="400.95" x2="279.80" y2="400.95" stroke="#1a1a1a" stroke-width="1" /><text x="274.20" y="403.85" font-size="10.2" text-anchor="end" fill="#111" font-family='"Liberation Sans", sans-serif' font-weight="normal" font-style="normal" >10</text><line x1="277.20" y1="380.90" x2="279.80" y2="380.90" stroke="#1a1a1a" stroke-width="1" /><text x="274.20" y="383.80" font-size="10.2" text-anchor="end" fill="#111" font-family='"Liberation Sans", sans-serif' font-weight="normal" font-style="normal" >20</text><line x1="277.20" y1="360.85" x2="279.80" y2="360.85" stroke="#1a1a1a" stroke-width="1" /><text x="274.20" y="363.75" font-size="10.2" text-anchor="end" fill="#111" font-family='"Liberation Sans", sans-serif' font-weight="normal" font-style="normal" >30</text><line x1="277.20" y1="340.80" x2="279.80" y2="340.80" stroke="#1a1a1a" stroke-width="1" /><text x="274.20" y="343.70" font-size="10.2" text-anchor="end" fill="#111" font-family='"Liberation Sans", sans-serif' font-weight="normal" font-style="normal" >40</text><line x1="277.20" y1="320.75" x2="279.80" y2="320.75" stroke="#1a1a1a" stroke-width="1" /><text x="274.20" y="323.65" font-size="10.2" text-anchor="end" fill="#111" font-family='"Liberation Sans", sans-serif' font-weight="normal" font-style="normal" >50</text><line x1="277.20" y1="300.70" x2="279.80" y2="300.70" stroke="#1a1a1a" stroke-width="1" /><text x="274.20" y="303.60" font-size="10.2" text-anchor="end" fill="#111" font-family='"Liberation Sans", sans-serif' font-weight="normal" font-style="normal" >60</text><line x1="277.20" y1="280.65" x2="279.80" y2="280.65" stroke="#1a1a1a" stroke-width="1" /><text x="274.20" y="283.55" font-size="10.2" text-anchor="end" fill="#111" font-family='"Liberation Sans", sans-serif' font-weight="normal" font-style="normal" >70</text><line x1="277.20" y1="260.60" x2="279.80" y2="260.60" stroke="#1a1a1a" stroke-width="1" /><text x="274.20" y="263.50" font-size="10.2" text-anchor="end" fill="#111" font-family='"Liberation Sans", sans-serif' font-weight="normal" font-style="normal" >80</text><line x1="277.20" y1="410.98" x2="279.00" y2="410.98" stroke="#1a1a1a" stroke-width="1" /><line x1="277.20" y1="390.93" x2="279.00" y2="390.93" stroke="#1a1a1a" stroke-width="1" /><line x1="277.20" y1="370.88" x2="279.00" y2="370.88" stroke="#1a1a1a" stroke-width="1" /><line x1="277.20" y1="350.82" x2="279.00" y2="350.82" stroke="#1a1a1a" stroke-width="1" /><line x1="277.20" y1="330.77" x2="279.00" y2="330.77" stroke="#1a1a1a" stroke-width="1" /><line x1="277.20" y1="310.73" x2="279.00" y2="310.73" stroke="#1a1a1a" stroke-width="1" /><line x1="277.20" y1="290.68" x2="279.00" y2="290.68" stroke="#1a1a1a" stroke-width="1" /><line x1="277.20" y1="270.62" x2="279.00" y2="270.62" stroke="#1a1a1a" stroke-width="1" /><line x1="277.20" y1="250.58" x2="279.00" y2="250.58" stroke="#1a1a1a" stroke-width="1" /><line x1="279.30" y1="423.90" x2="279.30" y2="421.30" stroke="#1a1a1a" stroke-width="1" /><text x="279.30" y="434.90" font-size="10.4" text-anchor="middle" fill="#111" font-family='"Liberation Sans", sans-serif' font-weight="normal" font-style="normal" >0</text><line x1="309.28" y1="423.90" x2="309.28" y2="421.30" stroke="#1a1a1a" stroke-width="1" /><text x="309.28" y="434.90" font-size="10.4" text-anchor="middle" fill="#111" font-family='"Liberation Sans", sans-serif' font-weight="normal" font-style="normal" >5</text><line x1="339.26" y1="423.90" x2="339.26" y2="421.30" stroke="#1a1a1a" stroke-width="1" /><text x="339.26" y="434.90" font-size="10.4" text-anchor="middle" fill="#111" font-family='"Liberation Sans", sans-serif' font-weight="normal" font-style="normal" >10</text><line x1="369.24" y1="423.90" x2="369.24" y2="421.30" stroke="#1a1a1a" stroke-width="1" /><text x="369.24" y="434.90" font-size="10.4" text-anchor="middle" fill="#111" font-family='"Liberation Sans", sans-serif' font-weight="normal" font-style="normal" >15</text><line x1="399.22" y1="423.90" x2="399.22" y2="421.30" stroke="#1a1a1a" stroke-width="1" /><text x="399.22" y="434.90" font-size="10.4" text-anchor="middle" fill="#111" font-family='"Liberation Sans", sans-serif' font-weight="normal" font-style="normal" >20</text><line x1="429.20" y1="423.90" x2="429.20" y2="421.30" stroke="#1a1a1a" stroke-width="1" /><text x="429.20" y="434.90" font-size="10.4" text-anchor="middle" fill="#111" font-family='"Liberation Sans", sans-serif' font-weight="normal" font-style="normal" >25</text><line x1="294.29" y1="423.90" x2="294.29" y2="422.10" stroke="#1a1a1a" stroke-width="1" /><line x1="324.27" y1="423.90" x2="324.27" y2="422.10" stroke="#1a1a1a" stroke-width="1" /><line x1="354.25" y1="423.90" x2="354.25" y2="422.10" stroke="#1a1a1a" stroke-width="1" /><line x1="384.23" y1="423.90" x2="384.23" y2="422.10" stroke="#1a1a1a" stroke-width="1" /><line x1="414.21" y1="423.90" x2="414.21" y2="422.10" stroke="#1a1a1a" stroke-width="1" /><line x1="444.19" y1="423.90" x2="444.19" y2="422.10" stroke="#1a1a1a" stroke-width="1" /><text x="364.50" y="452.00" font-size="12.8" text-anchor="middle" fill="#111" font-family='"Liberation Sans", sans-serif' font-weight="normal" font-style="normal" ><tspan font-style="italic">V</tspan> (mV)</text><text x="0" y="0" font-size="13" text-anchor="middle" fill="#111" font-family='"Liberation Sans", sans-serif' transform="translate(258.50,323.00) rotate(-90)"><tspan font-style="italic">I</tspan> (μA)</text><text x="234.50" y="246.90" font-size="17" text-anchor="start" fill="#000" font-family='"Liberation Sans", sans-serif' font-weight="bold" font-style="normal" >e</text><rect x="500.90" y="241.60" width="180.20" height="181.60" fill="url(#gf_bg)" stroke="none" stroke-width="1" /><path d="M502.2,420.5 L505.1,410.1 L507.9,400.0 L510.8,390.3 L513.7,381.0 L516.6,371.9 L519.4,363.3 L522.3,355.0 L525.2,347.0 L528.1,339.4 L530.9,332.1 L533.8,325.2 L536.7,318.6 L539.6,312.4 L542.4,306.5 L545.3,301.0 L548.2,295.8 L551.1,291.0 L553.9,286.5 L556.8,282.3 L559.7,278.6 L562.6,275.1 L565.4,272.0 L568.3,269.3 L571.2,266.9 L574.0,264.9 L576.9,263.2 L579.8,261.8 L582.7,260.8 L585.5,260.2 L588.4,259.9 L591.3,259.9 L594.2,260.3 L597.0,261.1 L599.9,262.2 L602.8,263.6 L605.7,265.4 L608.5,267.6 L611.4,270.1 L614.3,272.9 L617.2,276.1 L620.0,279.6 L622.9,283.5 L625.8,287.7 L628.7,292.3 L631.5,297.3 L634.4,302.5 L637.3,308.2 L640.2,314.2 L643.0,320.5 L645.9,327.2 L648.8,334.2 L651.6,341.6 L654.5,349.3 L657.4,357.3 L660.3,365.8 L663.1,374.5 L666.0,383.7 L668.9,393.1 L671.8,402.9 L674.6,413.1" fill="none" stroke="#c8c8c8" stroke-width="1.2"/><path d="M502.2,420.5 L504.0,416.9 L505.7,413.4 L507.5,410.1 L509.3,406.8 L511.1,403.7 L512.8,400.7 L514.6,397.8 L516.4,395.1 L518.1,392.4 L519.9,389.9 L521.7,387.6 L523.4,385.3 L525.2,383.1 L527.0,381.1 L528.8,379.2 L530.5,377.4 L532.3,375.8 L534.1,374.2 L535.8,372.8 L537.6,371.5 L539.4,370.4 L541.1,369.3 L542.9,368.4 L544.7,367.6 L546.5,366.9 L548.2,366.3 L550.0,365.9 L551.8,365.6 L553.5,365.4 L555.3,365.3 L557.1,365.3 L558.9,365.5 L560.6,365.8 L562.4,366.2 L564.2,366.7 L565.9,367.4 L567.7,368.2 L569.5,369.1 L571.2,370.1 L573.0,371.2 L574.8,372.5 L576.6,373.9 L578.3,375.4 L580.1,377.0 L581.9,378.8 L583.6,380.6 L585.4,382.6 L587.2,384.7 L588.9,387.0 L590.7,389.3 L592.5,391.8 L594.3,394.4 L596.0,397.1 L597.8,400.0 L599.6,402.9 L601.3,406.0 L603.1,409.2 L604.9,412.5 L606.6,416.0 L608.4,419.6" fill="none" stroke="#f4b4b4" stroke-width="1.2"/><path d="M502.2,420.5 L503.1,419.7 L504.0,418.9 L504.9,418.1 L505.8,417.3 L506.6,416.6 L507.5,415.9 L508.4,415.2 L509.3,414.6 L510.2,414.0 L511.1,413.4 L512.0,412.8 L512.9,412.3 L513.8,411.8 L514.6,411.3 L515.5,410.9 L516.4,410.5 L517.3,410.1 L518.2,409.7 L519.1,409.4 L520.0,409.1 L520.9,408.8 L521.8,408.5 L522.6,408.3 L523.5,408.1 L524.4,408.0 L525.3,407.8 L526.2,407.7 L527.1,407.6 L528.0,407.6 L528.9,407.5 L529.8,407.5 L530.6,407.6 L531.5,407.6 L532.4,407.7 L533.3,407.8 L534.2,407.9 L535.1,408.1 L536.0,408.3 L536.9,408.5 L537.8,408.8 L538.6,409.1 L539.5,409.4 L540.4,409.7 L541.3,410.1 L542.2,410.5 L543.1,410.9 L544.0,411.3 L544.9,411.8 L545.8,412.3 L546.6,412.8 L547.5,413.4 L548.4,414.0 L549.3,414.6 L550.2,415.2 L551.1,415.9 L552.0,416.6 L552.9,417.3 L553.8,418.1 L554.6,418.8 L555.5,419.6" fill="none" stroke="#a8ccf4" stroke-width="1.2"/><path d="M502.2,420.5 L502.6,420.3 L503.1,420.1 L503.5,419.9 L503.9,419.7 L504.3,419.5 L504.8,419.4 L505.2,419.2 L505.6,419.1 L506.1,418.9 L506.5,418.8 L506.9,418.6 L507.4,418.5 L507.8,418.4 L508.2,418.3 L508.6,418.1 L509.1,418.0 L509.5,417.9 L509.9,417.9 L510.4,417.8 L510.8,417.7 L511.2,417.6 L511.6,417.6 L512.1,417.5 L512.5,417.5 L512.9,417.4 L513.4,417.4 L513.8,417.4 L514.2,417.3 L514.7,417.3 L515.1,417.3 L515.5,417.3 L515.9,417.3 L516.4,417.3 L516.8,417.4 L517.2,417.4 L517.7,417.4 L518.1,417.5 L518.5,417.5 L518.9,417.6 L519.4,417.6 L519.8,417.7 L520.2,417.8 L520.7,417.9 L521.1,417.9 L521.5,418.0 L522.0,418.1 L522.4,418.3 L522.8,418.4 L523.2,418.5 L523.7,418.6 L524.1,418.8 L524.5,418.9 L525.0,419.0 L525.4,419.2 L525.8,419.4 L526.2,419.5 L526.7,419.7 L527.1,419.9 L527.5,420.1 L528.0,420.3" fill="none" stroke="#a8e8b8" stroke-width="1.2"/><rect x="674.80" y="418.40" width="4.20" height="4.20" fill="#404040" stroke="none" stroke-width="1" /><rect x="652.88" y="345.64" width="4.20" height="4.20" fill="#404040" stroke="none" stroke-width="1" /><rect x="638.86" y="298.08" width="4.20" height="4.20" fill="#404040" stroke="none" stroke-width="1" /><rect x="621.01" y="276.65" width="4.20" height="4.20" fill="#404040" stroke="none" stroke-width="1" /><rect x="611.74" y="262.97" width="4.20" height="4.20" fill="#404040" stroke="none" stroke-width="1" /><rect x="603.38" y="260.73" width="4.20" height="4.20" fill="#404040" stroke="none" stroke-width="1" /><rect x="568.80" y="272.41" width="4.20" height="4.20" fill="#404040" stroke="none" stroke-width="1" /><rect x="552.98" y="290.52" width="4.20" height="4.20" fill="#404040" stroke="none" stroke-width="1" /><rect x="542.81" y="305.73" width="4.20" height="4.20" fill="#404040" stroke="none" stroke-width="1" /><rect x="500.33" y="417.65" width="4.20" height="4.20" fill="#404040" stroke="none" stroke-width="1" /><circle cx="606.8" cy="420.5" r="2.6" fill="#f03434"/><circle cx="583.8" cy="388.6" r="2.6" fill="#f03434"/><circle cx="571.4" cy="372.4" r="2.6" fill="#f03434"/><circle cx="559.6" cy="364.4" r="2.6" fill="#f03434"/><circle cx="543.3" cy="372.8" r="2.6" fill="#f03434"/><circle cx="527.7" cy="383.7" r="2.6" fill="#f03434"/><circle cx="519.8" cy="392.1" r="2.6" fill="#f03434"/><circle cx="502.4" cy="420.1" r="2.6" fill="#f03434"/><path d="M555.3,417.1 L558.6,422.9 L552.1,422.9Z" fill="#2f6fe8"/><path d="M546.0,408.6 L549.3,414.3 L542.8,414.3Z" fill="#2f6fe8"/><path d="M538.4,406.1 L541.6,411.8 L535.1,411.8Z" fill="#2f6fe8"/><path d="M529.8,404.3 L533.0,410.1 L526.5,410.1Z" fill="#2f6fe8"/><path d="M522.1,405.2 L525.3,411.0 L518.8,411.0Z" fill="#2f6fe8"/><path d="M519.4,405.2 L522.6,410.9 L516.1,410.9Z" fill="#2f6fe8"/><path d="M508.1,412.0 L511.3,417.8 L504.8,417.8Z" fill="#2f6fe8"/><path d="M502.4,416.9 L505.7,422.6 L499.2,422.6Z" fill="#2f6fe8"/><path d="M527.7,423.9 L531.0,418.1 L524.5,418.1Z" fill="#2aa84a"/><path d="M523.2,421.8 L526.5,416.1 L520.0,416.1Z" fill="#2aa84a"/><path d="M518.9,421.0 L522.2,415.3 L515.7,415.3Z" fill="#2aa84a"/><path d="M515.8,420.5 L519.0,414.8 L512.5,414.8Z" fill="#2aa84a"/><path d="M513.3,420.3 L516.5,414.6 L510.0,414.6Z" fill="#2aa84a"/><path d="M512.1,420.3 L515.4,414.6 L508.9,414.6Z" fill="#2aa84a"/><path d="M507.6,421.7 L510.9,416.0 L504.4,416.0Z" fill="#2aa84a"/><path d="M502.2,423.9 L505.4,418.1 L499.0,418.1Z" fill="#2aa84a"/><rect x="500.90" y="241.60" width="180.20" height="181.60" fill="none" stroke="#1a1a1a" stroke-width="1.4" /><line x1="500.90" y1="420.50" x2="503.50" y2="420.50" stroke="#1a1a1a" stroke-width="1" /><text x="497.60" y="423.90" font-size="10.2" text-anchor="end" fill="#111" font-family='"Liberation Sans", sans-serif' font-weight="normal" font-style="normal" >0.0</text><line x1="500.90" y1="392.90" x2="503.50" y2="392.90" stroke="#1a1a1a" stroke-width="1" /><text x="497.60" y="396.30" font-size="10.2" text-anchor="end" fill="#111" font-family='"Liberation Sans", sans-serif' font-weight="normal" font-style="normal" >0.1</text><line x1="500.90" y1="365.30" x2="503.50" y2="365.30" stroke="#1a1a1a" stroke-width="1" /><text x="497.60" y="368.70" font-size="10.2" text-anchor="end" fill="#111" font-family='"Liberation Sans", sans-serif' font-weight="normal" font-style="normal" >0.2</text><line x1="500.90" y1="337.70" x2="503.50" y2="337.70" stroke="#1a1a1a" stroke-width="1" /><text x="497.60" y="341.10" font-size="10.2" text-anchor="end" fill="#111" font-family='"Liberation Sans", sans-serif' font-weight="normal" font-style="normal" >0.3</text><line x1="500.90" y1="310.10" x2="503.50" y2="310.10" stroke="#1a1a1a" stroke-width="1" /><text x="497.60" y="313.50" font-size="10.2" text-anchor="end" fill="#111" font-family='"Liberation Sans", sans-serif' font-weight="normal" font-style="normal" >0.4</text><line x1="500.90" y1="282.50" x2="503.50" y2="282.50" stroke="#1a1a1a" stroke-width="1" /><text x="497.60" y="285.90" font-size="10.2" text-anchor="end" fill="#111" font-family='"Liberation Sans", sans-serif' font-weight="normal" font-style="normal" >0.5</text><line x1="500.90" y1="254.90" x2="503.50" y2="254.90" stroke="#1a1a1a" stroke-width="1" /><text x="497.60" y="258.30" font-size="10.2" text-anchor="end" fill="#111" font-family='"Liberation Sans", sans-serif' font-weight="normal" font-style="normal" >0.6</text><line x1="500.90" y1="406.70" x2="502.70" y2="406.70" stroke="#1a1a1a" stroke-width="1" /><line x1="500.90" y1="379.10" x2="502.70" y2="379.10" stroke="#1a1a1a" stroke-width="1" /><line x1="500.90" y1="351.50" x2="502.70" y2="351.50" stroke="#1a1a1a" stroke-width="1" /><line x1="500.90" y1="323.90" x2="502.70" y2="323.90" stroke="#1a1a1a" stroke-width="1" /><line x1="500.90" y1="296.30" x2="502.70" y2="296.30" stroke="#1a1a1a" stroke-width="1" /><line x1="500.90" y1="268.70" x2="502.70" y2="268.70" stroke="#1a1a1a" stroke-width="1" /><line x1="502.20" y1="423.20" x2="502.20" y2="420.60" stroke="#1a1a1a" stroke-width="1" /><text x="502.20" y="434.00" font-size="10.4" text-anchor="middle" fill="#111" font-family='"Liberation Sans", sans-serif' font-weight="normal" font-style="normal" >0</text><line x1="513.50" y1="423.20" x2="513.50" y2="421.40" stroke="#1a1a1a" stroke-width="1" /><line x1="524.80" y1="423.20" x2="524.80" y2="420.60" stroke="#1a1a1a" stroke-width="1" /><text x="524.80" y="434.00" font-size="10.4" text-anchor="middle" fill="#111" font-family='"Liberation Sans", sans-serif' font-weight="normal" font-style="normal" >10</text><line x1="536.10" y1="423.20" x2="536.10" y2="421.40" stroke="#1a1a1a" stroke-width="1" /><line x1="547.40" y1="423.20" x2="547.40" y2="420.60" stroke="#1a1a1a" stroke-width="1" /><text x="547.40" y="434.00" font-size="10.4" text-anchor="middle" fill="#111" font-family='"Liberation Sans", sans-serif' font-weight="normal" font-style="normal" >20</text><line x1="558.70" y1="423.20" x2="558.70" y2="421.40" stroke="#1a1a1a" stroke-width="1" /><line x1="570.00" y1="423.20" x2="570.00" y2="420.60" stroke="#1a1a1a" stroke-width="1" /><text x="570.00" y="434.00" font-size="10.4" text-anchor="middle" fill="#111" font-family='"Liberation Sans", sans-serif' font-weight="normal" font-style="normal" >30</text><line x1="581.30" y1="423.20" x2="581.30" y2="421.40" stroke="#1a1a1a" stroke-width="1" /><line x1="592.60" y1="423.20" x2="592.60" y2="420.60" stroke="#1a1a1a" stroke-width="1" /><text x="592.60" y="434.00" font-size="10.4" text-anchor="middle" fill="#111" font-family='"Liberation Sans", sans-serif' font-weight="normal" font-style="normal" >40</text><line x1="603.90" y1="423.20" x2="603.90" y2="421.40" stroke="#1a1a1a" stroke-width="1" /><line x1="615.20" y1="423.20" x2="615.20" y2="420.60" stroke="#1a1a1a" stroke-width="1" /><text x="615.20" y="434.00" font-size="10.4" text-anchor="middle" fill="#111" font-family='"Liberation Sans", sans-serif' font-weight="normal" font-style="normal" >50</text><line x1="626.50" y1="423.20" x2="626.50" y2="421.40" stroke="#1a1a1a" stroke-width="1" /><line x1="637.80" y1="423.20" x2="637.80" y2="420.60" stroke="#1a1a1a" stroke-width="1" /><text x="637.80" y="434.00" font-size="10.4" text-anchor="middle" fill="#111" font-family='"Liberation Sans", sans-serif' font-weight="normal" font-style="normal" >60</text><line x1="649.10" y1="423.20" x2="649.10" y2="421.40" stroke="#1a1a1a" stroke-width="1" /><line x1="660.40" y1="423.20" x2="660.40" y2="420.60" stroke="#1a1a1a" stroke-width="1" /><text x="660.40" y="434.00" font-size="10.4" text-anchor="middle" fill="#111" font-family='"Liberation Sans", sans-serif' font-weight="normal" font-style="normal" >70</text><line x1="671.70" y1="423.20" x2="671.70" y2="421.40" stroke="#1a1a1a" stroke-width="1" /><text x="590.50" y="449.30" font-size="12.4" text-anchor="middle" fill="#111" font-family='"Liberation Sans", sans-serif' font-weight="normal" font-style="normal" ><tspan font-style="italic">I</tspan> (μA)</text><text x="0" y="0" font-size="13" text-anchor="middle" fill="#111" font-family='"Liberation Sans", sans-serif' transform="translate(476.00,332.00) rotate(-90)"><tspan font-style="italic">P</tspan> (μW)</text><text x="463.50" y="247.80" font-size="17" text-anchor="start" fill="#000" font-family='"Liberation Sans", sans-serif' font-weight="bold" font-style="normal" >f</text><rect x="43.80" y="460.20" width="182.70" height="182.50" fill="url(#gg_bg)" stroke="none" stroke-width="1" /><rect x="53.50" y="639.51" width="25.00" height="3.19" fill="#a6dcd6" stroke="#68c4ba" stroke-width="0.8" /><rect x="99.40" y="629.96" width="25.00" height="12.74" fill="url(#gg6)" stroke="#3040c8" stroke-width="0.8" /><rect x="145.00" y="588.17" width="25.00" height="54.53" fill="url(#gg12)" stroke="#f0a860" stroke-width="0.8" /><rect x="190.70" y="481.51" width="25.00" height="161.19" fill="url(#gg21)" stroke="#b050f0" stroke-width="0.8" /><g transform="translate(50.7,472.2)"><g clip-path="url(#clip_g)"><g filter="url(#blur_g)"><rect x="-2.0" y="-2.0" width="135.3" height="102.1" fill="#e8ddc8" /><rect x="-2.0" y="-2.0" width="135.3" height="27.0" fill="url(#gtree)" /><ellipse cx="10.0" cy="14.0" rx="12.0" ry="11.0" fill="#24502c" /><ellipse cx="36.0" cy="6.0" rx="14.0" ry="6.0" fill="#7a6e58" opacity="0.6"/><ellipse cx="48.0" cy="16.0" rx="12.0" ry="8.0" fill="#6e9462" /><ellipse cx="70.0" cy="12.0" rx="10.0" ry="9.0" fill="#8a9a88" opacity="0.7"/><ellipse cx="96.0" cy="12.0" rx="14.0" ry="11.0" fill="#2c5a2c" /><ellipse cx="120.0" cy="10.0" rx="10.0" ry="12.0" fill="#3e7236" /><rect x="19.0" y="0.0" width="3.5" height="25.0" fill="#7a7260" opacity="0.6"/><rect x="100.0" y="0.0" width="2.5" height="24.0" fill="#4a4a38" opacity="0.5"/><rect x="-2.0" y="24.5" width="135.3" height="2.5" fill="#eef0f0" /><rect x="-2.0" y="27.0" width="135.3" height="3.2" fill="#f2f4f4" /><rect x="-2.0" y="30.2" width="135.3" height="2.5" fill="#8e9698" /><rect x="-2.0" y="32.7" width="135.3" height="4.2" fill="#eceeee" /><rect x="-2.0" y="36.9" width="135.3" height="14.0" fill="#e6dec6" /><polygon points="100.0,27.0 124.0,26.0 132.0,28.0 132.0,92.0 118.0,91.0 106.0,82.0 103.4,58.0" fill="#ede8e4" /><path d="M108,40 L126,36 M106,60 L128,56 M110,75 L128,72 M115,30 L118,88" fill="none" stroke="#c8c2be" stroke-width="0.6" /><path d="M-2,49 C20,47 50,50 80,53 C95,54 106,56 114,60 C118,68 118,80 115,88 C90,90 60,89 30,89 L-2,90 Z" fill="url(#garm)" stroke="none" stroke-width="1" /><path d="M6,54 C30,56 60,54 90,58 L98,62 C70,62 40,62 10,62 Z" fill="#f4dccc" stroke="opacity="0.45"" stroke-width="1" /><path d="M20,80 C50,74 80,78 110,76" fill="none" stroke="#f8ece4" stroke-width="1.2" opacity="0.6"/><path d="M40,60 C55,70 70,72 90,84" fill="none" stroke="#f8ece4" stroke-width="0.9" opacity="0.6"/><path d="M5,86 C40,83 80,86 115,88 L115,92 L5,92 Z" fill="#c6d6d6" stroke="opacity="0.7"" stroke-width="1" /><polygon points="-2.0,49.0 5.0,50.0 8.0,70.0 8.0,91.0 -2.0,93.0" fill="#2c9c82" /><polygon points="24.8,29.0 100.0,27.5 103.4,44.0 103.4,57.9 26.0,58.0" fill="url(#gfoam)" /><polygon points="25.0,46.0 103.4,44.0 103.4,57.9 26.0,58.0" fill="#e4e0dc" /><rect x="39.9" y="21.0" width="44.7" height="22.0" fill="#e07a1c" /><rect x="39.9" y="20.3" width="44.7" height="3.0" fill="#ec8a2c" /><rect x="44.0" y="28.0" width="8.0" height="12.0" fill="#6a3618" /><rect x="58.0" y="28.0" width="8.0" height="12.0" fill="#6a3618" /><rect x="72.0" y="28.0" width="8.0" height="12.0" fill="#6a3618" /><rect x="39.9" y="25.0" width="44.7" height="2.2" fill="#f4a050" opacity="0.8"/><rect x="-2.0" y="92.0" width="135.3" height="10.0" fill="#e8ddc8" /></g></g></g><rect x="43.80" y="460.20" width="182.70" height="182.50" fill="none" stroke="#1a1a1a" stroke-width="1.4" /><line x1="43.80" y1="642.30" x2="46.40" y2="642.30" stroke="#1a1a1a" stroke-width="1" /><text x="40.50" y="646.90" font-size="13" text-anchor="end" fill="#111" font-family='"Liberation Sans", sans-serif' font-weight="normal" font-style="normal" >0</text><line x1="43.80" y1="602.50" x2="46.40" y2="602.50" stroke="#1a1a1a" stroke-width="1" /><text x="40.50" y="607.10" font-size="13" text-anchor="end" fill="#111" font-family='"Liberation Sans", sans-serif' font-weight="normal" font-style="normal" >200</text><line x1="43.80" y1="562.70" x2="46.40" y2="562.70" stroke="#1a1a1a" stroke-width="1" /><text x="40.50" y="567.30" font-size="13" text-anchor="end" fill="#111" font-family='"Liberation Sans", sans-serif' font-weight="normal" font-style="normal" >400</text><line x1="43.80" y1="522.90" x2="46.40" y2="522.90" stroke="#1a1a1a" stroke-width="1" /><text x="40.50" y="527.50" font-size="13" text-anchor="end" fill="#111" font-family='"Liberation Sans", sans-serif' font-weight="normal" font-style="normal" >600</text><line x1="43.80" y1="483.10" x2="46.40" y2="483.10" stroke="#1a1a1a" stroke-width="1" /><text x="40.50" y="487.70" font-size="13" text-anchor="end" fill="#111" font-family='"Liberation Sans", sans-serif' font-weight="normal" font-style="normal" >800</text><line x1="43.80" y1="622.40" x2="45.60" y2="622.40" stroke="#1a1a1a" stroke-width="1" /><line x1="43.80" y1="582.60" x2="45.60" y2="582.60" stroke="#1a1a1a" stroke-width="1" /><line x1="43.80" y1="542.80" x2="45.60" y2="542.80" stroke="#1a1a1a" stroke-width="1" /><line x1="43.80" y1="503.00" x2="45.60" y2="503.00" stroke="#1a1a1a" stroke-width="1" /><text x="66.00" y="656.80" font-size="13" text-anchor="middle" fill="#111" font-family='"Liberation Sans", sans-serif' font-weight="normal" font-style="normal" >3</text><text x="111.90" y="656.80" font-size="13" text-anchor="middle" fill="#111" font-family='"Liberation Sans", sans-serif' font-weight="normal" font-style="normal" >6</text><text x="157.50" y="656.80" font-size="13" text-anchor="middle" fill="#111" font-family='"Liberation Sans", sans-serif' font-weight="normal" font-style="normal" >12</text><text x="203.20" y="656.80" font-size="13" text-anchor="middle" fill="#111" font-family='"Liberation Sans", sans-serif' font-weight="normal" font-style="normal" >21</text><line x1="88.90" y1="642.70" x2="88.90" y2="640.90" stroke="#1a1a1a" stroke-width="1" /><line x1="134.60" y1="642.70" x2="134.60" y2="640.90" stroke="#1a1a1a" stroke-width="1" /><line x1="180.30" y1="642.70" x2="180.30" y2="640.90" stroke="#1a1a1a" stroke-width="1" /><text x="132.30" y="675.30" font-size="14.6" text-anchor="middle" fill="#111" font-family='"Liberation Sans", sans-serif' font-weight="normal" font-style="normal" >Δ<tspan font-style="italic">T</tspan> (°C)</text><text x="0" y="0" font-size="15" text-anchor="middle" fill="#111" font-family='"Liberation Sans", sans-serif' transform="translate(17,551) rotate(-90)"><tspan font-style="italic">ω</tspan> (μW cm<tspan font-size="9.5" dy="-5.5">−2</tspan><tspan dy="5.5">)</tspan></text><text x="10.00" y="466.00" font-size="17" text-anchor="start" fill="#000" font-family='"Liberation Sans", sans-serif' font-weight="bold" font-style="normal" >g</text><rect x="499.50" y="457.50" width="183.70" height="183.50" fill="url(#gi_bg)" stroke="none" stroke-width="1" /><circle cx="501.1" cy="513.4" r="1.85" fill="#f01818"/><circle cx="507.4" cy="514.1" r="1.85" fill="#f01818"/><circle cx="513.7" cy="514.7" r="1.85" fill="#f01818"/><circle cx="520.0" cy="515.3" r="1.85" fill="#f01818"/><circle cx="526.4" cy="515.8" r="1.85" fill="#f01818"/><circle cx="532.7" cy="516.4" r="1.85" fill="#f01818"/><circle cx="539.0" cy="516.8" r="1.85" fill="#f01818"/><circle cx="545.3" cy="517.3" r="1.85" fill="#f01818"/><circle cx="551.6" cy="517.6" r="1.85" fill="#f01818"/><circle cx="557.9" cy="517.9" r="1.85" fill="#f01818"/><circle cx="564.2" cy="518.1" r="1.85" fill="#f01818"/><circle cx="570.5" cy="518.1" r="1.85" fill="#f01818"/><circle cx="576.8" cy="518.1" r="1.85" fill="#f01818"/><circle cx="583.1" cy="518.1" r="1.85" fill="#f01818"/><circle cx="589.4" cy="518.1" r="1.85" fill="#f01818"/><circle cx="595.7" cy="518.1" r="1.85" fill="#f01818"/><circle cx="602.0" cy="518.1" r="1.85" fill="#f01818"/><circle cx="608.4" cy="518.1" r="1.85" fill="#f01818"/><circle cx="614.7" cy="518.1" r="1.85" fill="#f01818"/><circle cx="621.0" cy="518.1" r="1.85" fill="#f01818"/><circle cx="627.3" cy="518.1" r="1.85" fill="#f01818"/><circle cx="633.6" cy="518.1" r="1.85" fill="#f01818"/><circle cx="639.9" cy="518.1" r="1.85" fill="#f01818"/><circle cx="646.2" cy="518.1" r="1.85" fill="#f01818"/><circle cx="652.5" cy="518.1" r="1.85" fill="#f01818"/><circle cx="658.8" cy="518.1" r="1.85" fill="#f01818"/><circle cx="665.1" cy="518.1" r="1.85" fill="#f01818"/><circle cx="671.4" cy="518.1" r="1.85" fill="#f01818"/><circle cx="677.7" cy="518.1" r="1.85" fill="#f01818"/><circle cx="501.1" cy="558.3" r="1.85" fill="#ee7a22"/><circle cx="507.4" cy="558.3" r="1.85" fill="#ee7a22"/><circle cx="513.7" cy="558.3" r="1.85" fill="#ee7a22"/><circle cx="520.0" cy="558.3" r="1.85" fill="#ee7a22"/><circle cx="526.4" cy="558.2" r="1.85" fill="#ee7a22"/><circle cx="532.7" cy="558.0" r="1.85" fill="#ee7a22"/><circle cx="539.0" cy="557.6" r="1.85" fill="#ee7a22"/><circle cx="545.3" cy="557.1" r="1.85" fill="#ee7a22"/><circle cx="551.6" cy="556.4" r="1.85" fill="#ee7a22"/><circle cx="557.9" cy="555.6" r="1.85" fill="#ee7a22"/><circle cx="564.2" cy="554.7" r="1.85" fill="#ee7a22"/><circle cx="570.5" cy="553.7" r="1.85" fill="#ee7a22"/><circle cx="576.8" cy="552.7" r="1.85" fill="#ee7a22"/><circle cx="583.1" cy="551.7" r="1.85" fill="#ee7a22"/><circle cx="589.4" cy="550.7" r="1.85" fill="#ee7a22"/><circle cx="595.7" cy="549.8" r="1.85" fill="#ee7a22"/><circle cx="602.0" cy="549.0" r="1.85" fill="#ee7a22"/><circle cx="608.4" cy="548.3" r="1.85" fill="#ee7a22"/><circle cx="614.7" cy="547.8" r="1.85" fill="#ee7a22"/><circle cx="621.0" cy="547.4" r="1.85" fill="#ee7a22"/><circle cx="627.3" cy="547.1" r="1.85" fill="#ee7a22"/><circle cx="633.6" cy="547.3" r="1.85" fill="#ee7a22"/><circle cx="639.9" cy="547.9" r="1.85" fill="#ee7a22"/><circle cx="646.2" cy="548.5" r="1.85" fill="#ee7a22"/><circle cx="652.5" cy="549.1" r="1.85" fill="#ee7a22"/><circle cx="658.8" cy="549.7" r="1.85" fill="#ee7a22"/><circle cx="665.1" cy="550.3" r="1.85" fill="#ee7a22"/><circle cx="671.4" cy="550.9" r="1.85" fill="#ee7a22"/><circle cx="677.7" cy="551.5" r="1.85" fill="#ee7a22"/><circle cx="501.1" cy="609.6" r="1.85" fill="#2a6ef0"/><circle cx="507.4" cy="609.6" r="1.85" fill="#2a6ef0"/><circle cx="513.7" cy="609.6" r="1.85" fill="#2a6ef0"/><circle cx="520.0" cy="609.6" r="1.85" fill="#2a6ef0"/><circle cx="526.4" cy="609.6" r="1.85" fill="#2a6ef0"/><circle cx="532.7" cy="609.6" r="1.85" fill="#2a6ef0"/><circle cx="539.0" cy="609.5" r="1.85" fill="#2a6ef0"/><circle cx="545.3" cy="609.5" r="1.85" fill="#2a6ef0"/><circle cx="551.6" cy="609.4" r="1.85" fill="#2a6ef0"/><circle cx="557.9" cy="609.3" r="1.85" fill="#2a6ef0"/><circle cx="564.2" cy="609.2" r="1.85" fill="#2a6ef0"/><circle cx="570.5" cy="608.9" r="1.85" fill="#2a6ef0"/><circle cx="576.8" cy="608.7" r="1.85" fill="#2a6ef0"/><circle cx="583.1" cy="608.3" r="1.85" fill="#2a6ef0"/><circle cx="589.4" cy="608.0" r="1.85" fill="#2a6ef0"/><circle cx="595.7" cy="607.7" r="1.85" fill="#2a6ef0"/><circle cx="602.0" cy="607.4" r="1.85" fill="#2a6ef0"/><circle cx="608.4" cy="607.2" r="1.85" fill="#2a6ef0"/><circle cx="614.7" cy="607.2" r="1.85" fill="#2a6ef0"/><circle cx="621.0" cy="607.3" r="1.85" fill="#2a6ef0"/><circle cx="627.3" cy="607.5" r="1.85" fill="#2a6ef0"/><circle cx="633.6" cy="607.8" r="1.85" fill="#2a6ef0"/><circle cx="639.9" cy="608.2" r="1.85" fill="#2a6ef0"/><circle cx="646.2" cy="608.6" r="1.85" fill="#2a6ef0"/><circle cx="652.5" cy="609.0" r="1.85" fill="#2a6ef0"/><circle cx="658.8" cy="609.3" r="1.85" fill="#2a6ef0"/><circle cx="665.1" cy="609.6" r="1.85" fill="#2a6ef0"/><circle cx="671.4" cy="609.9" r="1.85" fill="#2a6ef0"/><circle cx="677.7" cy="610.0" r="1.85" fill="#2a6ef0"/><rect x="499.50" y="457.50" width="183.70" height="183.50" fill="none" stroke="#1a1a1a" stroke-width="1.4" /><line x1="499.50" y1="609.60" x2="502.10" y2="609.60" stroke="#1a1a1a" stroke-width="1" /><text x="495.90" y="613.90" font-size="12" text-anchor="end" fill="#111" font-family='"Liberation Sans", sans-serif' font-weight="normal" font-style="normal" >4</text><line x1="499.50" y1="549.20" x2="502.10" y2="549.20" stroke="#1a1a1a" stroke-width="1" /><text x="495.90" y="553.50" font-size="12" text-anchor="end" fill="#111" font-family='"Liberation Sans", sans-serif' font-weight="normal" font-style="normal" >6</text><line x1="499.50" y1="488.80" x2="502.10" y2="488.80" stroke="#1a1a1a" stroke-width="1" /><text x="495.90" y="493.10" font-size="12" text-anchor="end" fill="#111" font-family='"Liberation Sans", sans-serif' font-weight="normal" font-style="normal" >8</text><line x1="499.50" y1="639.80" x2="501.30" y2="639.80" stroke="#1a1a1a" stroke-width="1" /><line x1="499.50" y1="579.40" x2="501.30" y2="579.40" stroke="#1a1a1a" stroke-width="1" /><line x1="499.50" y1="519.00" x2="501.30" y2="519.00" stroke="#1a1a1a" stroke-width="1" /><line x1="499.50" y1="458.60" x2="501.30" y2="458.60" stroke="#1a1a1a" stroke-width="1" /><line x1="514.80" y1="641.00" x2="514.80" y2="638.40" stroke="#1a1a1a" stroke-width="1" /><text x="514.80" y="655.20" font-size="12" text-anchor="middle" fill="#111" font-family='"Liberation Sans", sans-serif' font-weight="normal" font-style="normal" >20</text><line x1="545.20" y1="641.00" x2="545.20" y2="638.40" stroke="#1a1a1a" stroke-width="1" /><text x="545.20" y="655.20" font-size="12" text-anchor="middle" fill="#111" font-family='"Liberation Sans", sans-serif' font-weight="normal" font-style="normal" >40</text><line x1="575.60" y1="641.00" x2="575.60" y2="638.40" stroke="#1a1a1a" stroke-width="1" /><text x="575.60" y="655.20" font-size="12" text-anchor="middle" fill="#111" font-family='"Liberation Sans", sans-serif' font-weight="normal" font-style="normal" >60</text><line x1="606.00" y1="641.00" x2="606.00" y2="638.40" stroke="#1a1a1a" stroke-width="1" /><text x="606.00" y="655.20" font-size="12" text-anchor="middle" fill="#111" font-family='"Liberation Sans", sans-serif' font-weight="normal" font-style="normal" >80</text><line x1="636.40" y1="641.00" x2="636.40" y2="638.40" stroke="#1a1a1a" stroke-width="1" /><text x="636.40" y="655.20" font-size="12" text-anchor="middle" fill="#111" font-family='"Liberation Sans", sans-serif' font-weight="normal" font-style="normal" >100</text><line x1="666.80" y1="641.00" x2="666.80" y2="638.40" stroke="#1a1a1a" stroke-width="1" /><text x="666.80" y="655.20" font-size="12" text-anchor="middle" fill="#111" font-family='"Liberation Sans", sans-serif' font-weight="normal" font-style="normal" >120</text><line x1="530.00" y1="641.00" x2="530.00" y2="639.20" stroke="#1a1a1a" stroke-width="1" /><line x1="560.40" y1="641.00" x2="560.40" y2="639.20" stroke="#1a1a1a" stroke-width="1" /><line x1="590.80" y1="641.00" x2="590.80" y2="639.20" stroke="#1a1a1a" stroke-width="1" /><line x1="621.20" y1="641.00" x2="621.20" y2="639.20" stroke="#1a1a1a" stroke-width="1" /><line x1="651.60" y1="641.00" x2="651.60" y2="639.20" stroke="#1a1a1a" stroke-width="1" /><text x="591.50" y="670.60" font-size="14.7" text-anchor="middle" fill="#111" font-family='"Liberation Sans", sans-serif' font-weight="normal" font-style="normal" >Duration (s)</text><text x="0" y="0" font-size="14" text-anchor="middle" fill="#111" font-family='"Liberation Sans", sans-serif' transform="translate(482.00,544.00) rotate(-90)"><tspan font-style="italic">V</tspan> (mV)</text><text x="470.00" y="464.00" font-size="17" text-anchor="start" fill="#000" font-family='"Liberation Sans", sans-serif' font-weight="bold" font-style="normal" >i</text><g transform="translate(43.8,235.3)"><g clip-path="url(#clip_d1)"><g filter="url(#blur_d1)"><rect x="-2.0" y="-2.0" width="180.4" height="69.5" fill="url(#d1bg)" /><polygon points="-2.0,21.0 24.0,21.0 24.0,70.0 -2.0,70.0" fill="url(#d1foam)" /><polygon points="140.0,24.0 178.0,26.0 178.0,70.0 140.0,70.0" fill="url(#d1foam)" /><rect x="-2.0" y="48.0" width="180.4" height="20.0" fill="#e2e2e0" /><path d="M10,40 C20,30 30,20 50,15 C70,8 90,6 100,8" fill="none" stroke="#9a6a58" stroke-width="0.6" /><path d="M143,32 C150,35 160,40 165,50 C170,55 172,60 176,62" fill="none" stroke="#9a6a58" stroke-width="0.6" /><path d="M0,15 C10,12 20,10 25,2" fill="none" stroke="#9a6a58" stroke-width="0.5" /><rect x="50.6" y="6.3" width="81.0" height="40.0" fill="#d86e16" /><rect x="43.3" y="13.6" width="99.0" height="34.0" fill="#e27c1e" /><polygon points="142.0,13.0 148.0,17.0 146.0,30.0 142.0,34.0" fill="#cf8464" /><rect x="21.0" y="22.6" width="107.0" height="26.5" fill="#e8841f" /><rect x="21.0" y="30.0" width="107.0" height="3.0" fill="#b85e1e" opacity="0.55"/><rect x="21.0" y="22.6" width="14.0" height="12.0" fill="#b86a48" /><rect x="45.0" y="19.0" width="95.0" height="4.0" fill="#a85018" opacity="0.7"/><rect x="55.0" y="8.0" width="72.0" height="4.0" fill="#a04c18" opacity="0.6"/><rect x="60.0" y="12.0" width="20.0" height="6.0" fill="#8a4a28" opacity="0.5"/><rect x="96.0" y="12.0" width="22.0" height="6.0" fill="#8a4a28" opacity="0.5"/><rect x="44.0" y="27.0" width="23.0" height="3.0" fill="#a8a8a4" /><rect x="44.0" y="27.0" width="3.0" height="14.0" fill="#a8a8a4" /><rect x="64.0" y="27.0" width="3.0" height="18.0" fill="#a0a09c" /><rect x="74.0" y="27.0" width="22.0" height="3.0" fill="#a8a8a4" /><rect x="74.0" y="27.0" width="3.0" height="14.0" fill="#a8a8a4" /><rect x="93.0" y="27.0" width="3.0" height="18.0" fill="#a0a09c" /><rect x="106.0" y="27.0" width="21.0" height="3.0" fill="#a8a8a4" /><rect x="106.0" y="27.0" width="3.0" height="14.0" fill="#a8a8a4" /><rect x="124.0" y="27.0" width="3.0" height="18.0" fill="#a0a09c" /><rect x="73.4" y="9.6" width="17.7" height="2.2" fill="#a8a4a0" /><rect x="89.1" y="9.6" width="2.0" height="4.0" fill="#a8a4a0" /><rect x="104.9" y="9.6" width="15.8" height="2.2" fill="#a8a4a0" /><rect x="118.7" y="9.6" width="2.0" height="4.0" fill="#a8a4a0" /><rect x="61.5" y="18.5" width="17.8" height="2.2" fill="#aaa6a2" /><rect x="61.5" y="18.5" width="2.2" height="5.0" fill="#aaa6a2" /><rect x="77.1" y="18.5" width="2.2" height="5.0" fill="#aaa6a2" /><rect x="93.1" y="18.5" width="17.7" height="2.2" fill="#aaa6a2" /><rect x="93.1" y="18.5" width="2.2" height="5.0" fill="#aaa6a2" /><rect x="108.6" y="18.5" width="2.2" height="5.0" fill="#aaa6a2" /><rect x="123.6" y="18.5" width="12.8" height="2.2" fill="#aaa6a2" /><rect x="123.6" y="18.5" width="2.2" height="5.0" fill="#aaa6a2" /><rect x="134.2" y="18.5" width="2.2" height="5.0" fill="#aaa6a2" /><polygon points="128.0,30.0 140.0,28.0 143.0,38.0 130.0,40.0" fill="#cf8868" /><rect x="35.4" y="36.4" width="20.4" height="12.0" fill="#3e4650" /><rect x="69.6" y="36.6" width="21.9" height="12.4" fill="#3c444e" /><rect x="101.4" y="36.6" width="21.6" height="12.7" fill="#3e4650" /><rect x="24.0" y="38.0" width="5.0" height="12.0" fill="#b0b0ac" /></g></g></g><g transform="translate(43.8,300.8)"><g clip-path="url(#clip_d2)"><g filter="url(#blur_d2)"><rect x="-2.0" y="-2.0" width="179.3" height="67.1" fill="url(#d2bg)" /><path d="M-2,20 C3,25 5,40 3,52" fill="none" stroke="#a06a50" stroke-width="0.7" /><path d="M30,12 C36,14 40,22 42,30 C44,40 40,48 36,52" fill="none" stroke="#a06a50" stroke-width="0.7" /><polygon points="-2.0,53.0 18.9,38.6 38.6,29.4 64.9,20.9 86.2,20.2 125.6,22.9 145.2,25.5 159.8,30.7 170.2,37.2 177.0,44.5 177.0,66.0 -2.0,66.0" fill="url(#d2foam)" /><polygon points="150.0,40.0 177.0,44.0 177.0,66.0 155.0,66.0" fill="#b4b2aa" opacity="0.6"/><polygon points="38.6,3.7 64.7,3.2 64.9,29.2 48.2,36.2 40.2,19.2" fill="#94583e" /><polygon points="52.0,6.0 64.7,5.0 64.9,29.2 54.0,33.0" fill="#7c6c66" opacity="0.85"/><polygon points="90.2,4.5 96.7,4.5 95.7,39.9 91.2,38.2" fill="#7e5a4a" /><polygon points="91.5,8.0 95.5,8.0 94.8,34.0 92.2,34.0" fill="#9a9896" opacity="0.7"/><polygon points="125.6,5.2 144.0,5.7 140.2,39.9 127.2,34.2" fill="#7a645c" /><polygon points="128.0,10.0 138.0,10.0 136.0,30.0 129.0,27.0" fill="#8c8684" opacity="0.6"/><path d="M88,38 C95,50 110,52 118,44" fill="none" stroke="#a06a50" stroke-width="0.6" /><path d="M145,38 C150,36 158,25 163,5" fill="none" stroke="#a06a50" stroke-width="0.6" /></g></g></g><g transform="translate(43.2,365.0)"><g clip-path="url(#clip_d3)"><g filter="url(#blur_d3)"><rect x="-2.0" y="-2.0" width="179.9" height="69.8" fill="url(#d3bg)" /><ellipse cx="90.0" cy="45.0" rx="60.0" ry="18.0" fill="#cccccc" opacity="0.5"/><polygon points="47.0,16.2 143.0,15.0 140.0,21.0 52.0,22.0" fill="#9a7e6a" opacity="0.35"/><polygon points="43.3,7.7 148.0,6.8 141.0,15.0 49.0,16.2" fill="#e07a22" /><polygon points="45.0,8.5 146.0,7.7 140.3,14.3 50.0,15.3" fill="#1c1410" /><rect x="73.0" y="8.0" width="6.0" height="7.0" fill="#d8731c" /><rect x="107.0" y="8.0" width="6.0" height="7.0" fill="#d8731c" /><rect x="56.0" y="9.5" width="6.0" height="3.0" fill="#7a4a20" opacity="0.8"/><rect x="122.0" y="9.0" width="8.0" height="3.0" fill="#7a4a20" opacity="0.8"/><polygon points="40.0,32.2 150.0,33.8 140.0,39.5 50.0,39.0" fill="#c07838" opacity="0.35"/><polygon points="37.9,28.8 155.5,30.8 155.5,32.6 37.9,30.8" fill="#1e1814" /><polygon points="37.9,29.2 60.0,29.4 60.0,30.2 37.9,30.2" fill="#b06a40" /><polygon points="52.7,56.4 131.0,58.6 131.0,60.2 52.7,58.0" fill="#1e1814" /><polygon points="60.0,58.2 128.0,60.2 120.0,63.0 65.0,62.0" fill="#b07848" opacity="0.3"/><path d="M0,20 C30,18 60,25 90,22" fill="none" stroke="#a07060" stroke-width="0.4" opacity="0.6"/></g></g></g><g transform="translate(274.1,455.6)"><g clip-path="url(#clip_h)"><g filter="url(#blur_h)"><rect x="-2.0" y="-2.0" width="187.8" height="187.7" fill="#d2d0cc" /><polygon points="47.0,-2.0 186.0,-2.0 186.0,40.0 123.6,24.0 47.0,4.0" fill="#e4e4e4" /><polygon points="47.0,4.0 123.6,24.0 186.0,40.0 186.0,62.0 94.0,36.0 47.0,28.0" fill="#3f5f61" /><polygon points="47.0,4.0 123.6,24.0 186.0,40.0 186.0,43.0 123.6,27.0 47.0,7.0" fill="#b8c0bc" opacity="0.7"/><polygon points="122.0,25.0 186.0,41.0 186.0,49.0 122.0,33.0" fill="#cdd1cd" opacity="0.85"/><polygon points="8.0,28.0 47.0,28.0 94.0,36.0 186.0,62.0 186.0,74.0 -2.0,74.0 -2.0,50.0" fill="#d2cfca" /><polygon points="52.0,42.0 78.0,35.0 112.0,44.0 114.0,70.0 56.0,73.0" fill="#eeeef0" /><polygon points="-2.0,48.0 30.0,52.0 54.0,60.0 60.0,74.0 -2.0,74.0" fill="#e2e0de" /><polygon points="116.0,48.0 160.0,56.0 186.0,62.0 186.0,74.0 116.0,74.0" fill="#cfcfcc" /><polygon points="142.0,52.0 172.0,57.0 172.0,66.0 142.0,63.0" fill="#2a2b2d" /><rect x="-2.0" y="-2.0" width="11.4" height="53.0" fill="#1a1c1e" /><polygon points="9.4,-2.0 47.0,-2.0 47.0,43.0 9.4,43.0" fill="#e3b52a" /><polygon points="37.6,-2.0 47.0,-2.0 47.0,43.0 37.6,43.0" fill="#c99c1f" /><polygon points="95.4,14.8 125.0,24.0 118.0,53.7 100.0,50.0" fill="#e0b030" /><polygon points="104.0,34.0 119.0,38.5 118.5,40.5 103.5,36.0" fill="#3a2a10" /><path d="M72,-2 C70,15 72,30 82,40 C92,50 100,60 108,72" fill="none" stroke="#141414" stroke-width="1.6" /><path d="M126,24 C128,40 130,55 134,70" fill="none" stroke="#141414" stroke-width="1.3" /><path d="M10,46 C20,40 34,44 44,46 C56,48 66,46 70,50 C74,56 66,62 58,72" fill="none" stroke="#1a1a1a" stroke-width="1.3" /><rect x="-2.0" y="128.0" width="187.8" height="60.0" fill="url(#hfloor)" /><polygon points="40.0,150.0 70.0,150.0 80.0,186.0 30.0,186.0" fill="#9a9ea2" opacity="0.5"/><polygon points="-2.0,127.0 45.0,127.0 41.0,148.0 -2.0,150.0" fill="#4270d0" /><ellipse cx="16.0" cy="131.0" rx="10.0" ry="4.5" fill="#3460c0" /><polygon points="-2.0,150.0 41.0,148.0 39.0,153.0 -2.0,155.0" fill="#2e3a50" opacity="0.8"/><polygon points="57.6,133.2 88.5,126.5 146.3,135.9 153.0,141.3 150.3,172.1 125.1,174.8 64.4,166.8 57.6,154.7" fill="#4070d2" /><polygon points="82.0,128.0 150.3,137.6 148.9,148.3 84.0,139.0" fill="#e8eef6" /><rect x="92.0" y="130.0" width="11.0" height="5.0" fill="#1c1c1c" /><circle cx="99.4" cy="149.4" r="9.5" fill="#3a66cc" stroke="#e6ecf6" stroke-width="0.8"/><circle cx="132.1" cy="157.5" r="9.5" fill="#3a66cc" stroke="#e6ecf6" stroke-width="0.8"/><polygon points="64.4,166.8 125.1,174.8 150.3,172.1 148.0,177.0 120.0,179.0 62.0,171.0" fill="#2a3040" opacity="0.6"/><polygon points="150.3,137.2 184.0,140.0 184.0,161.4 150.3,158.0" fill="#2a2c2e" /><circle cx="163" cy="150" r="2.2" fill="#d82020"/><path d="M60,150 C62,160 68,175 80,172 C90,168 85,150 78,140" fill="none" stroke="#b06040" stroke-width="0.6" /><polygon points="-2.0,73.0 48.2,71.5 52.0,120.0 48.0,133.0 -2.0,133.0" fill="url(#hwrap)" /><path d="M-2,84 C15,82 30,86 48,84" fill="none" stroke="#f8f8fa" stroke-width="1.5" opacity="0.7"/><polygon points="-2.0,112.0 4.0,110.0 8.0,120.0 -2.0,124.0" fill="#2a8a80" opacity="0.8"/><polygon points="30.0,112.0 70.0,114.0 110.0,113.0 112.0,124.0 90.0,134.0 50.0,138.0 20.0,132.0" fill="#e2e2e6" /><polygon points="126.0,71.0 160.0,66.0 184.0,62.0 184.0,134.0 150.0,137.0 112.0,134.0 112.0,116.0 130.0,114.0" fill="url(#hskin)" /><path d="M120,100 C140,96 160,100 180,96 M126,120 C145,116 165,122 182,118" fill="none" stroke="#eed4ca" stroke-width="1.0" opacity="0.7"/><polygon points="157.9,60.4 186.0,55.5 186.0,156.0 173.9,152.4 165.9,104.4" fill="#ececec" /><path d="M48.2,72 L131.5,70 C133,85 133,100 131.5,114 L48.2,117 Z" fill="url(#horange)" stroke="none" stroke-width="1" /><rect x="48.2" y="73.0" width="83.0" height="3.0" fill="#f29058" opacity="0.45"/><polygon points="56.3,78.8 122.5,75.2 122.5,79.4 56.3,83.2" fill="#74808c" /><polygon points="57.7,98.8 118.1,93.6 118.1,98.0 57.7,103.4" fill="#74808c" /><path d="M57.7,101 L120.8,77.2" fill="none" stroke="#ece8d6" stroke-width="2.4" /><polygon points="118.1,91.6 130.2,91.0 130.2,110.0 118.1,110.4" fill="#d8906e" /></g></g></g><text x="46.80" y="297.90" font-size="14.6" text-anchor="start" fill="#f81c14" font-family='"Liberation Sans", sans-serif' font-weight="normal" font-style="normal" >Front view</text><text x="45.50" y="362.20" font-size="14.6" text-anchor="start" fill="#f81c14" font-family='"Liberation Sans", sans-serif' font-weight="normal" font-style="normal" >Side view</text><text x="44.40" y="427.20" font-size="14.6" text-anchor="start" fill="#f81c14" font-family='"Liberation Sans", sans-serif' font-weight="normal" font-style="normal" >Top view</text><text x="8.00" y="246.90" font-size="17" text-anchor="start" fill="#000" font-family='"Liberation Sans", sans-serif' font-weight="bold" font-style="normal" >d</text><text x="238.00" y="465.30" font-size="17" text-anchor="start" fill="#000" font-family='"Liberation Sans", sans-serif' font-weight="bold" font-style="normal" >h</text><text x="337.40" y="521.70" font-size="17.4" text-anchor="start" fill="#e6f02c" font-family='"Liberation Sans", sans-serif' font-weight="normal" font-style="normal" stroke="#e6f02c" stroke-width="0.45">Device</text><text x="301.80" y="551.30" font-size="17" text-anchor="start" fill="#2e74e0" font-family='"Liberation Sans", sans-serif' font-weight="normal" font-style="italic" >T</text><text x="312.60" y="555.30" font-size="11" text-anchor="start" fill="#2e74e0" font-family='"Liberation Sans", sans-serif' font-weight="normal" font-style="normal" >c</text><text x="409.20" y="543.80" font-size="17" text-anchor="start" fill="#f02020" font-family='"Liberation Sans", sans-serif' font-weight="normal" font-style="italic" >T</text><text x="419.20" y="548.20" font-size="11" text-anchor="start" fill="#f02020" font-family='"Liberation Sans", sans-serif' font-weight="normal" font-style="normal" >h</text><circle cx="511.8" cy="491.0" r="5.1" fill="none" stroke="#f84848" stroke-width="1.2"/><line x1="518.70" y1="491.00" x2="522.30" y2="491.00" stroke="#f84848" stroke-width="1.0" /><line x1="516.68" y1="495.88" x2="519.22" y2="498.42" stroke="#f84848" stroke-width="1.0" /><line x1="511.80" y1="497.90" x2="511.80" y2="501.50" stroke="#f84848" stroke-width="1.0" /><line x1="506.92" y1="495.88" x2="504.38" y2="498.42" stroke="#f84848" stroke-width="1.0" /><line x1="504.90" y1="491.00" x2="501.30" y2="491.00" stroke="#f84848" stroke-width="1.0" /><line x1="506.92" y1="486.12" x2="504.38" y2="483.58" stroke="#f84848" stroke-width="1.0" /><line x1="511.80" y1="484.10" x2="511.80" y2="480.50" stroke="#f84848" stroke-width="1.0" /><line x1="516.68" y1="486.12" x2="519.22" y2="483.58" stroke="#f84848" stroke-width="1.0" /><line x1="526.80" y1="491.90" x2="542.80" y2="491.90" stroke="#f61a1a" stroke-width="2.6" /><line x1="534.80" y1="483.90" x2="534.80" y2="499.90" stroke="#f61a1a" stroke-width="2.6" /><circle cx="511.8" cy="537.9" r="5.1" fill="none" stroke="#f84848" stroke-width="1.2"/><line x1="518.70" y1="537.90" x2="522.30" y2="537.90" stroke="#f84848" stroke-width="1.0" /><line x1="516.68" y1="542.78" x2="519.22" y2="545.32" stroke="#f84848" stroke-width="1.0" /><line x1="511.80" y1="544.80" x2="511.80" y2="548.40" stroke="#f84848" stroke-width="1.0" /><line x1="506.92" y1="542.78" x2="504.38" y2="545.32" stroke="#f84848" stroke-width="1.0" /><line x1="504.90" y1="537.90" x2="501.30" y2="537.90" stroke="#f84848" stroke-width="1.0" /><line x1="506.92" y1="533.02" x2="504.38" y2="530.48" stroke="#f84848" stroke-width="1.0" /><line x1="511.80" y1="531.00" x2="511.80" y2="527.40" stroke="#f84848" stroke-width="1.0" /><line x1="516.68" y1="533.02" x2="519.22" y2="530.48" stroke="#f84848" stroke-width="1.0" /><line x1="526.80" y1="538.20" x2="542.80" y2="538.20" stroke="#f08428" stroke-width="2.6" /><line x1="534.80" y1="530.20" x2="534.80" y2="546.20" stroke="#f08428" stroke-width="2.6" /><circle cx="511.8" cy="583.0" r="5.1" fill="none" stroke="#f84848" stroke-width="1.2"/><line x1="518.70" y1="583.00" x2="522.30" y2="583.00" stroke="#f84848" stroke-width="1.0" /><line x1="516.68" y1="587.88" x2="519.22" y2="590.42" stroke="#f84848" stroke-width="1.0" /><line x1="511.80" y1="589.90" x2="511.80" y2="593.50" stroke="#f84848" stroke-width="1.0" /><line x1="506.92" y1="587.88" x2="504.38" y2="590.42" stroke="#f84848" stroke-width="1.0" /><line x1="504.90" y1="583.00" x2="501.30" y2="583.00" stroke="#f84848" stroke-width="1.0" /><line x1="506.92" y1="578.12" x2="504.38" y2="575.58" stroke="#f84848" stroke-width="1.0" /><line x1="511.80" y1="576.10" x2="511.80" y2="572.50" stroke="#f84848" stroke-width="1.0" /><line x1="516.68" y1="578.12" x2="519.22" y2="575.58" stroke="#f84848" stroke-width="1.0" /><line x1="526.80" y1="583.90" x2="542.80" y2="583.90" stroke="#2010f0" stroke-width="2.6" /><line x1="534.80" y1="575.90" x2="534.80" y2="591.90" stroke="#2010f0" stroke-width="2.6" /><circle cx="560.4" cy="482.2" r="2.6" fill="#f61a1a"/><path d="M555.9,486.2 L553.6,494.6" fill="none" stroke="#f61a1a" stroke-width="4.2" stroke-linecap="round" stroke-linejoin="round"/><path d="M552.6,485.7 L559.4,486.1" fill="none" stroke="#f61a1a" stroke-width="2.6" stroke-linecap="round" stroke-linejoin="round"/><path d="M552.4,485.8 L550.4,490.0" fill="none" stroke="#f61a1a" stroke-width="2.5" stroke-linecap="round" stroke-linejoin="round"/><path d="M559.6,486.5 L563.7,490.0 L565.8,486.6" fill="none" stroke="#f61a1a" stroke-width="2.5" stroke-linecap="round" stroke-linejoin="round"/><path d="M553.8,494.5 L551.0,498.7 L544.8,498.7" fill="none" stroke="#f61a1a" stroke-width="2.6" stroke-linecap="round" stroke-linejoin="round"/><path d="M554.8,494.8 L558.6,498.2 L558.3,505.6" fill="none" stroke="#f61a1a" stroke-width="2.6" stroke-linecap="round" stroke-linejoin="round"/><circle cx="556.8" cy="527" r="2.6" fill="#f08428"/><path d="M555.5,532.2 L554.9,540.6" fill="none" stroke="#f08428" stroke-width="4.0" stroke-linecap="round" stroke-linejoin="round"/><path d="M551.6,532.6 L557.8,532.4" fill="none" stroke="#f08428" stroke-width="2.6" stroke-linecap="round" stroke-linejoin="round"/><path d="M551.3,532.6 L549.3,537.0" fill="none" stroke="#f08428" stroke-width="2.5" stroke-linecap="round" stroke-linejoin="round"/><path d="M558.0,533.0 L559.6,537.0 L563.2,538.0" fill="none" stroke="#f08428" stroke-width="2.5" stroke-linecap="round" stroke-linejoin="round"/><path d="M553.6,541.4 L552.4,544.7 L547.7,549.9" fill="none" stroke="#f08428" stroke-width="2.8" stroke-linecap="round" stroke-linejoin="round"/><path d="M555.0,540.6 L559.1,542.7 L558.8,550.2" fill="none" stroke="#f08428" stroke-width="2.6" stroke-linecap="round" stroke-linejoin="round"/><circle cx="556.5" cy="575.5" r="2.7" fill="#2010f0"/><path d="M552.6,578.8 L560.6,578.8 C561.8,578.8 562.3,580 562.3,581 L562.2,583 L566.6,588.6 C567,589.5 566.2,590.3 565.4,589.8 L560.2,584.6 L559.9,591.8 L553.3,591.8 L553.1,584.6 L547.8,589.8 C547,590.4 546.1,589.6 546.6,588.7 L551.1,583 L551,581 C551,580 551.6,578.8 552.6,578.8 Z" fill="#2010f0"/><path d="M546.3,592.2 L559.0,592.2 L559.0,595.3 Q552,595.8 546.3,593.8 Z" fill="#2010f0"/><path d="M560.2,592.2 L566.8,592.2 L566.8,593.8 Q563.5,595.2 560.2,595.3 Z" fill="#2010f0"/></svg></body></html>
